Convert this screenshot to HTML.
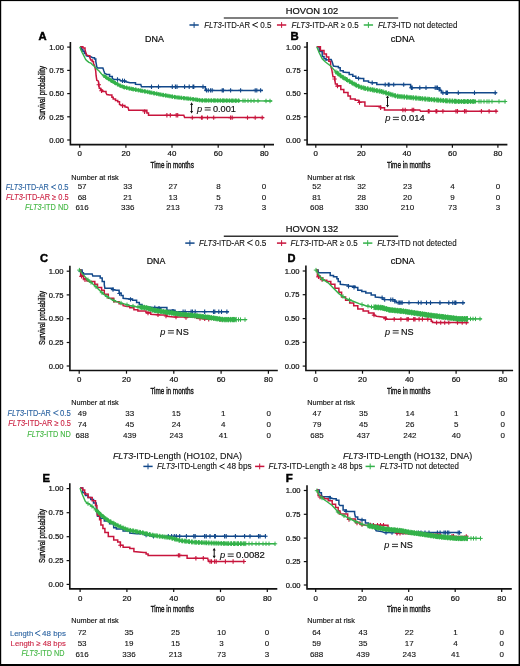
<!DOCTYPE html><html><head><meta charset="utf-8"><title>FLT3-ITD survival</title><style>html,body{margin:0;padding:0;background:#fff;overflow:hidden;}svg{display:block;filter:blur(0.3px);}text{font-family:"Liberation Sans", sans-serif;}</style></head><body>
<svg width="520" height="666" viewBox="0 0 520 666">
<rect x="0" y="0" width="520" height="666" fill="#fff"/>
<text x="311.90" y="13.60" font-size="8.9" text-anchor="middle" fill="#111" stroke="#111" stroke-width="0.22" textLength="52.40" lengthAdjust="spacingAndGlyphs">HOVON 102</text>
<line x1="223.80" y1="18.00" x2="398.20" y2="18.00" stroke="#555" stroke-width="1.4"/>
<line x1="189.45" y1="25.00" x2="198.75" y2="25.00" stroke="#12488a" stroke-width="1.5"/>
<line x1="194.10" y1="22.10" x2="194.10" y2="27.90" stroke="#12488a" stroke-width="1.0"/>
<text x="204.20" y="27.90" font-size="8.7" fill="#111" stroke="#111" stroke-width="0.1" textLength="45.90" lengthAdjust="spacingAndGlyphs"><tspan font-style="italic">FLT3</tspan>-ITD-AR</text>
<path d="M257.55 22.55L252.55 24.85L257.55 27.15" fill="none" stroke="#111" stroke-width="0.95" stroke-linejoin="round" stroke-linecap="round"/>
<text x="260.20" y="27.90" font-size="8.7" fill="#111" stroke="#111" stroke-width="0.1" textLength="11.20" lengthAdjust="spacingAndGlyphs">0.5</text>
<line x1="276.95" y1="25.00" x2="286.25" y2="25.00" stroke="#c8143c" stroke-width="1.5"/>
<line x1="281.60" y1="22.10" x2="281.60" y2="27.90" stroke="#c8143c" stroke-width="1.0"/>
<text x="291.60" y="27.90" font-size="8.7" fill="#111" stroke="#111" stroke-width="0.1" textLength="67.10" lengthAdjust="spacingAndGlyphs"><tspan font-style="italic">FLT3</tspan>-ITD-AR ≥ 0.5</text>
<line x1="363.75" y1="25.00" x2="373.05" y2="25.00" stroke="#34b24a" stroke-width="1.5"/>
<line x1="368.40" y1="22.10" x2="368.40" y2="27.90" stroke="#34b24a" stroke-width="1.0"/>
<text x="377.90" y="27.90" font-size="8.7" fill="#111" stroke="#111" stroke-width="0.1" textLength="79.50" lengthAdjust="spacingAndGlyphs"><tspan font-style="italic">FLT3</tspan>-ITD not detected</text>
<text x="311.90" y="231.70" font-size="8.9" text-anchor="middle" fill="#111" stroke="#111" stroke-width="0.22" textLength="52.40" lengthAdjust="spacingAndGlyphs">HOVON 132</text>
<line x1="223.80" y1="236.20" x2="398.20" y2="236.20" stroke="#333" stroke-width="1.4"/>
<line x1="185.25" y1="243.10" x2="194.55" y2="243.10" stroke="#12488a" stroke-width="1.5"/>
<line x1="189.90" y1="240.20" x2="189.90" y2="246.00" stroke="#12488a" stroke-width="1.0"/>
<text x="198.90" y="246.00" font-size="8.7" fill="#111" stroke="#111" stroke-width="0.1" textLength="46.10" lengthAdjust="spacingAndGlyphs"><tspan font-style="italic">FLT3</tspan>-ITD-AR</text>
<path d="M252.35 240.25L247.35 242.70L252.35 245.15" fill="none" stroke="#111" stroke-width="0.95" stroke-linejoin="round" stroke-linecap="round"/>
<text x="254.90" y="246.00" font-size="8.7" fill="#111" stroke="#111" stroke-width="0.1" textLength="11.50" lengthAdjust="spacingAndGlyphs">0.5</text>
<line x1="276.95" y1="243.10" x2="286.25" y2="243.10" stroke="#c8143c" stroke-width="1.5"/>
<line x1="281.60" y1="240.20" x2="281.60" y2="246.00" stroke="#c8143c" stroke-width="1.0"/>
<text x="290.60" y="246.00" font-size="8.7" fill="#111" stroke="#111" stroke-width="0.1" textLength="67.10" lengthAdjust="spacingAndGlyphs"><tspan font-style="italic">FLT3</tspan>-ITD-AR ≥ 0.5</text>
<line x1="363.05" y1="243.10" x2="372.35" y2="243.10" stroke="#34b24a" stroke-width="1.5"/>
<line x1="367.70" y1="240.20" x2="367.70" y2="246.00" stroke="#34b24a" stroke-width="1.0"/>
<text x="377.20" y="246.00" font-size="8.7" fill="#111" stroke="#111" stroke-width="0.1" textLength="79.50" lengthAdjust="spacingAndGlyphs"><tspan font-style="italic">FLT3</tspan>-ITD not detected</text>
<text x="38.60" y="39.80" font-size="10.2" fill="#000" stroke="#000" stroke-width="0.45" font-weight="bold" textLength="8.10" lengthAdjust="spacingAndGlyphs">A</text>
<text x="154.50" y="42.10" font-size="8.2" text-anchor="middle" fill="#111" stroke="#111" stroke-width="0.22" textLength="18.80" lengthAdjust="spacingAndGlyphs">DNA</text>
<path d="M70.40 42.80V144.60H273.20" stroke="#111" stroke-width="1.6" fill="none" stroke-linecap="square"/>
<line x1="67.20" y1="47.10" x2="70.40" y2="47.10" stroke="#111" stroke-width="1.2"/>
<text x="64.00" y="49.80" font-size="7.7" text-anchor="end" fill="#111" stroke="#111" stroke-width="0.22" textLength="14.80" lengthAdjust="spacingAndGlyphs">1.00</text>
<line x1="67.20" y1="70.40" x2="70.40" y2="70.40" stroke="#111" stroke-width="1.2"/>
<text x="64.00" y="73.10" font-size="7.7" text-anchor="end" fill="#111" stroke="#111" stroke-width="0.22" textLength="14.80" lengthAdjust="spacingAndGlyphs">0.75</text>
<line x1="67.20" y1="93.60" x2="70.40" y2="93.60" stroke="#111" stroke-width="1.2"/>
<text x="64.00" y="96.30" font-size="7.7" text-anchor="end" fill="#111" stroke="#111" stroke-width="0.22" textLength="14.80" lengthAdjust="spacingAndGlyphs">0.50</text>
<line x1="67.20" y1="116.80" x2="70.40" y2="116.80" stroke="#111" stroke-width="1.2"/>
<text x="64.00" y="119.50" font-size="7.7" text-anchor="end" fill="#111" stroke="#111" stroke-width="0.22" textLength="14.80" lengthAdjust="spacingAndGlyphs">0.25</text>
<line x1="67.20" y1="140.00" x2="70.40" y2="140.00" stroke="#111" stroke-width="1.2"/>
<text x="64.00" y="142.70" font-size="7.7" text-anchor="end" fill="#111" stroke="#111" stroke-width="0.22" textLength="14.80" lengthAdjust="spacingAndGlyphs">0.00</text>
<line x1="79.70" y1="144.60" x2="79.70" y2="147.80" stroke="#111" stroke-width="1.2"/>
<text x="79.70" y="156.20" font-size="7.9" text-anchor="middle" fill="#111" stroke="#111" stroke-width="0.22">0</text>
<line x1="125.90" y1="144.60" x2="125.90" y2="147.80" stroke="#111" stroke-width="1.2"/>
<text x="125.90" y="156.20" font-size="7.9" text-anchor="middle" fill="#111" stroke="#111" stroke-width="0.22">20</text>
<line x1="172.00" y1="144.60" x2="172.00" y2="147.80" stroke="#111" stroke-width="1.2"/>
<text x="172.00" y="156.20" font-size="7.9" text-anchor="middle" fill="#111" stroke="#111" stroke-width="0.22">40</text>
<line x1="218.20" y1="144.60" x2="218.20" y2="147.80" stroke="#111" stroke-width="1.2"/>
<text x="218.20" y="156.20" font-size="7.9" text-anchor="middle" fill="#111" stroke="#111" stroke-width="0.22">60</text>
<line x1="264.30" y1="144.60" x2="264.30" y2="147.80" stroke="#111" stroke-width="1.2"/>
<text x="264.30" y="156.20" font-size="7.9" text-anchor="middle" fill="#111" stroke="#111" stroke-width="0.22">80</text>
<text transform="translate(44.90,93.00) rotate(-90)" x="0" y="0" font-size="9.0" text-anchor="middle" fill="#111" stroke="#111" stroke-width="0.34" textLength="54" lengthAdjust="spacingAndGlyphs">Survival probability</text>
<text x="172.20" y="167.60" font-size="9.1" text-anchor="middle" fill="#111" stroke="#111" stroke-width="0.38" textLength="43.30" lengthAdjust="spacingAndGlyphs">Time in months</text>
<polyline points="80.20,46.80 81.50,46.80 81.50,49.40 82.90,49.40 82.90,51.20 84.30,51.20 84.30,53.50 86.20,53.50 86.20,55.60 88.00,56.20 90.80,56.80 92.60,57.70 94.50,57.70 94.50,59.10 95.80,59.10 95.80,61.40 96.30,64.20 96.80,66.90 97.50,68.00 102.90,68.10 103.80,70.80 104.70,73.30 106.90,74.40 109.60,74.40 109.60,76.60 112.30,76.60 112.30,78.70 114.50,79.50 119.70,79.50 120.40,80.70 124.50,80.90 125.80,81.80 130.00,82.80 135.50,82.80 135.50,84.40 140.80,84.60 141.50,86.80 204.20,86.80 205.40,86.80 205.40,90.40 262.90,90.40" fill="none" stroke="#12488a" stroke-width="1.5"/>
<path d="M117.50 77.30V81.70M115.30 79.50H119.70M122.50 78.60V83.00M120.30 80.80H124.70M124.50 78.70V83.10M122.30 80.90H126.70M151.50 84.60V89.00M149.30 86.80H153.70M158.50 84.60V89.00M156.30 86.80H160.70M172.30 84.60V89.00M170.10 86.80H174.50M175.40 84.60V89.00M173.20 86.80H177.60M177.00 84.60V89.00M174.80 86.80H179.20M184.60 84.60V89.00M182.40 86.80H186.80M189.20 84.60V89.00M187.00 86.80H191.40M193.00 84.60V89.00M190.80 86.80H195.20M193.80 84.60V89.00M191.60 86.80H196.00M203.00 84.60V89.00M200.80 86.80H205.20M206.50 88.20V92.60M204.30 90.40H208.70M208.30 88.20V92.60M206.10 90.40H210.50M210.60 88.20V92.60M208.40 90.40H212.80M212.20 88.20V92.60M210.00 90.40H214.40M222.20 88.20V92.60M220.00 90.40H224.40M223.40 88.20V92.60M221.20 90.40H225.60M230.60 88.20V92.60M228.40 90.40H232.80M240.60 88.20V92.60M238.40 90.40H242.80M255.20 88.20V92.60M253.00 90.40H257.40M256.80 88.20V92.60M254.60 90.40H259.00M260.60 88.20V92.60M258.40 90.40H262.80" stroke="#12488a" stroke-width="1.1" fill="none"/>
<polyline points="80.20,46.80 82.90,46.80 82.90,48.00 85.00,48.00 85.00,49.60 85.70,52.20 86.60,54.90 88.50,55.80 89.80,55.80 89.80,57.70 90.80,60.00 92.20,60.00 92.20,61.40 93.50,61.40 93.50,63.70 94.50,65.50 95.20,68.50 95.70,70.80 96.10,75.70 96.80,80.20 98.40,81.10 98.80,84.70 99.30,88.30 100.60,88.30 100.60,90.10 102.40,90.10 102.40,91.50 106.00,91.50 106.00,92.80 106.90,94.60 109.60,95.10 111.90,95.10 111.90,97.30 113.20,97.30 113.20,99.10 115.50,99.10 115.50,100.50 117.70,100.50 117.70,101.80 119.50,101.80 119.50,104.50 122.20,105.50 124.90,105.50 124.90,106.80 128.00,107.40 128.80,110.30 142.30,110.30 146.90,110.30 146.90,113.10 148.50,113.10 148.50,115.20 183.80,115.20 184.60,117.60 263.70,117.60" fill="none" stroke="#c8143c" stroke-width="1.5"/>
<path d="M98.80 82.50V86.90M96.60 84.70H101.00M101.50 88.60V93.00M99.30 90.80H103.70M122.60 103.49V107.89M120.40 105.69H124.80M144.60 109.50V113.90M142.40 111.70H146.80M166.90 113.00V117.40M164.70 115.20H169.10M170.30 113.00V117.40M168.10 115.20H172.50M176.20 113.00V117.40M174.00 115.20H178.40M177.70 113.00V117.40M175.50 115.20H179.90M192.30 115.40V119.80M190.10 117.60H194.50M201.50 115.40V119.80M199.30 117.60H203.70M202.20 115.40V119.80M200.00 117.60H204.40M207.50 115.40V119.80M205.30 117.60H209.70M213.70 115.40V119.80M211.50 117.60H215.90M230.60 115.40V119.80M228.40 117.60H232.80M232.20 115.40V119.80M230.00 117.60H234.40M247.50 115.40V119.80M245.30 117.60H249.70M255.20 115.40V119.80M253.00 117.60H257.40M262.20 115.40V119.80M260.00 117.60H264.40" stroke="#c8143c" stroke-width="1.1" fill="none"/>
<polyline points="79.80,46.80 80.60,48.90 82.00,52.20 83.40,54.90 84.80,57.70 85.70,59.50 87.10,60.90 88.90,62.30 90.80,63.00 92.20,64.40 94.50,66.50 97.00,69.30 99.10,71.00 101.50,74.00 106.00,77.30 110.50,80.20 115.00,82.90 119.50,85.40 124.00,87.20 130.00,88.60 145.40,91.50 160.80,94.60 176.20,97.30 191.50,99.00 201.50,100.40 226.80,100.60 272.20,101.00" fill="none" stroke="#34b24a" stroke-width="1.4"/>
<polyline points="104.00,75.83 106.00,77.30 110.50,80.20 115.00,82.90 119.50,85.40 124.00,87.20 130.00,88.60 145.40,91.50 160.80,94.60 176.20,97.30 191.50,99.00 201.50,100.40 226.80,100.60 240.00,100.72" fill="none" stroke="#34b24a" stroke-width="2.6" stroke-linejoin="round"/>
<path d="M104.00 73.68V77.98M101.85 75.83H106.15M105.45 74.75V79.05M103.30 76.90H107.60M106.33 75.36V79.66M104.18 77.51H108.48M108.24 76.59V80.89M106.09 78.74H110.39M108.86 76.99V81.29M106.71 79.14H111.01M110.78 78.22V82.52M108.63 80.37H112.93M111.63 78.73V83.03M109.48 80.88H113.78M113.12 79.62V83.92M110.97 81.77H115.27M114.53 80.47V84.77M112.38 82.62H116.68M115.44 81.00V85.30M113.29 83.15H117.59M117.33 82.05V86.35M115.18 84.20H119.48M117.95 82.39V86.69M115.80 84.54H120.10M119.89 83.41V87.71M117.74 85.56H122.04M120.72 83.74V88.04M118.57 85.89H122.87M122.24 84.34V88.64M120.09 86.49H124.39M123.62 84.90V89.20M121.47 87.05H125.77M124.55 85.18V89.48M122.40 87.33H126.70M126.43 85.62V89.92M124.28 87.77H128.58M127.05 85.76V90.06M124.90 87.91H129.20M129.00 86.22V90.52M126.85 88.37H131.15M129.80 86.40V90.70M127.65 88.55H131.95M131.35 86.70V91.00M129.20 88.85H133.50M132.70 86.96V91.26M130.55 89.11H134.85M133.67 87.14V91.44M131.52 89.29H135.82M135.52 87.49V91.79M133.37 89.64H137.67M136.15 87.61V91.91M134.00 89.76H138.30M138.11 87.98V92.28M135.96 90.13H140.26M138.89 88.12V92.42M136.74 90.27H141.04M140.47 88.42V92.72M138.32 90.57H142.62M141.78 88.67V92.97M139.63 90.82H143.93M142.78 88.86V93.16M140.63 91.01H144.93M144.62 89.20V93.50M142.47 91.35H146.77M145.25 89.32V93.62M143.10 91.47H147.40M147.22 89.72V94.02M145.07 91.87H149.37M147.98 89.87V94.17M145.83 92.02H150.13M149.59 90.19V94.49M147.44 92.34H151.74M150.87 90.45V94.75M148.72 92.60H153.02M151.89 90.66V94.96M149.74 92.81H154.04M153.71 91.02V95.32M151.56 93.17H155.86M154.35 91.15V95.45M152.20 93.30H156.50M156.32 91.55V95.85M154.17 93.70H158.47M157.06 91.70V96.00M154.91 93.85H159.21M158.70 92.03V96.33M156.55 94.18H160.85M159.95 92.28V96.58M157.80 94.43H162.10M161.01 92.49V96.79M158.86 94.64H163.16M162.80 92.80V97.10M160.65 94.95H164.95M163.45 92.91V97.21M161.30 95.06H165.60M165.43 93.26V97.56M163.28 95.41H167.58M166.15 93.39V97.69M164.00 95.54H168.30M167.82 93.68V97.98M165.67 95.83H169.97M169.03 93.89V98.19M166.88 96.04H171.18M170.12 94.08V98.38M167.97 96.23H172.27M171.89 94.39V98.69M169.74 96.54H174.04M172.55 94.51V98.81M170.40 96.66H174.70M174.54 94.86V99.16M172.39 97.01H176.69M175.24 94.98V99.28M173.09 97.13H177.39M176.94 95.23V99.53M174.79 97.38H179.09M178.11 95.36V99.66M175.96 97.51H180.26M179.24 95.49V99.79M177.09 97.64H181.39M180.98 95.68V99.98M178.83 97.83H183.13M181.66 95.76V100.06M179.51 97.91H183.81M183.64 95.98V100.28M181.49 98.13H185.79M184.33 96.05V100.35M182.18 98.20H186.48M186.05 96.24V100.54M183.90 98.39H188.20M187.20 96.37V100.67M185.05 98.52H189.35M188.35 96.50V100.80M186.20 98.65H190.50M190.07 96.69V100.99M187.92 98.84H192.22M190.76 96.77V101.07M188.61 98.92H192.91M192.74 97.02V101.32M190.59 99.17H194.89M193.42 97.12V101.42M191.27 99.27H195.57M195.17 97.36V101.66M193.02 99.51H197.32M196.28 97.52V101.82M194.13 99.67H198.43M197.47 97.69V101.99M195.32 99.84H199.62M199.16 97.92V102.22M197.01 100.07H201.31M199.87 98.02V102.32M197.72 100.17H202.02M201.85 98.25V102.55M199.70 100.40H204.00M202.51 98.26V102.56M200.36 100.41H204.66M204.28 98.27V102.57M202.13 100.42H206.43M205.36 98.28V102.58M203.21 100.43H207.51M206.59 98.29V102.59M204.44 100.44H208.74M208.24 98.30V102.60M206.09 100.45H210.39M208.97 98.31V102.61M206.82 100.46H211.12M210.95 98.32V102.62M208.80 100.47H213.10M211.60 98.33V102.63M209.45 100.48H213.75M213.40 98.34V102.64M211.25 100.49H215.55M214.44 98.35V102.65M212.29 100.50H216.59M215.70 98.36V102.66M213.55 100.51H217.85M217.33 98.38V102.68M215.18 100.53H219.48M218.08 98.38V102.68M215.93 100.53H220.23M220.05 98.40V102.70M217.90 100.55H222.20M220.69 98.40V102.70M218.54 100.55H222.84M222.51 98.42V102.72M220.36 100.57H224.66M223.53 98.42V102.72M221.38 100.57H225.68M224.82 98.43V102.73M222.67 100.58H226.97M226.42 98.45V102.75M224.27 100.60H228.57M227.19 98.45V102.75M225.04 100.60H229.34M229.15 98.47V102.77M227.00 100.62H231.30M229.78 98.48V102.78M227.63 100.63H231.93M231.63 98.49V102.79M229.48 100.64H233.78M232.61 98.50V102.80M230.46 100.65H234.76M233.94 98.51V102.81M231.79 100.66H236.09M235.50 98.53V102.83M233.35 100.68H237.65M236.29 98.53V102.83M234.14 100.68H238.44M238.25 98.55V102.85M236.10 100.70H240.40M238.87 98.56V102.86M236.72 100.71H241.02" stroke="#34b24a" stroke-width="1.0" fill="none"/>
<path d="M243.00 98.54V102.94M240.80 100.74H245.20M245.00 98.56V102.96M242.80 100.76H247.20M248.00 98.59V102.99M245.80 100.79H250.20M251.00 98.61V103.01M248.80 100.81H253.20M254.00 98.64V103.04M251.80 100.84H256.20M258.00 98.67V103.07M255.80 100.87H260.20M266.00 98.75V103.15M263.80 100.95H268.20M270.00 98.78V103.18M267.80 100.98H272.20" stroke="#34b24a" stroke-width="1.0" fill="none"/>
<path d="M191.60 103.80V112.10" stroke="#111" stroke-width="1.0"/>
<path d="M190.10 105.00L191.60 102.30L193.10 105.00Z M190.10 110.90L191.60 113.60L193.10 110.90Z" fill="#111"/>
<text x="197.00" y="111.50" font-size="9.4" fill="#111" stroke="#111" stroke-width="0.12"><tspan font-style="italic">p</tspan></text>
<rect x="204.70" y="107.20" width="6.0" height="1.0" fill="#333"/>
<rect x="204.70" y="109.50" width="6.0" height="1.0" fill="#333"/>
<text x="212.90" y="111.50" font-size="9.4" fill="#111" stroke="#111" stroke-width="0.18" textLength="23.00" lengthAdjust="spacingAndGlyphs">0.001</text>
<text x="71.20" y="179.50" font-size="7.4" fill="#111" stroke="#111" stroke-width="0.15" textLength="47.60" lengthAdjust="spacingAndGlyphs">Number at risk</text>
<text x="82.10" y="189.30" font-size="8.0" text-anchor="middle" fill="#111" stroke="#111" stroke-width="0.12">57</text>
<text x="127.80" y="189.30" font-size="8.0" text-anchor="middle" fill="#111" stroke="#111" stroke-width="0.12">33</text>
<text x="173.00" y="189.30" font-size="8.0" text-anchor="middle" fill="#111" stroke="#111" stroke-width="0.12">27</text>
<text x="218.60" y="189.30" font-size="8.0" text-anchor="middle" fill="#111" stroke="#111" stroke-width="0.12">8</text>
<text x="263.90" y="189.30" font-size="8.0" text-anchor="middle" fill="#111" stroke="#111" stroke-width="0.12">0</text>
<text x="82.10" y="199.80" font-size="8.0" text-anchor="middle" fill="#111" stroke="#111" stroke-width="0.12">68</text>
<text x="127.80" y="199.80" font-size="8.0" text-anchor="middle" fill="#111" stroke="#111" stroke-width="0.12">21</text>
<text x="173.00" y="199.80" font-size="8.0" text-anchor="middle" fill="#111" stroke="#111" stroke-width="0.12">13</text>
<text x="218.60" y="199.80" font-size="8.0" text-anchor="middle" fill="#111" stroke="#111" stroke-width="0.12">5</text>
<text x="263.90" y="199.80" font-size="8.0" text-anchor="middle" fill="#111" stroke="#111" stroke-width="0.12">0</text>
<text x="82.10" y="210.30" font-size="8.0" text-anchor="middle" fill="#111" stroke="#111" stroke-width="0.12">616</text>
<text x="127.80" y="210.30" font-size="8.0" text-anchor="middle" fill="#111" stroke="#111" stroke-width="0.12">336</text>
<text x="173.00" y="210.30" font-size="8.0" text-anchor="middle" fill="#111" stroke="#111" stroke-width="0.12">213</text>
<text x="218.60" y="210.30" font-size="8.0" text-anchor="middle" fill="#111" stroke="#111" stroke-width="0.12">73</text>
<text x="263.90" y="210.30" font-size="8.0" text-anchor="middle" fill="#111" stroke="#111" stroke-width="0.12">3</text>
<text x="5.80" y="189.90" font-size="8.3" fill="#2c64a2" stroke="#2c64a2" stroke-width="0.12" textLength="43.00" lengthAdjust="spacingAndGlyphs"><tspan font-style="italic">FLT3</tspan>-ITD-AR</text>
<path d="M55.65 184.85L51.35 187.00L55.65 189.15" fill="none" stroke="#2c64a2" stroke-width="0.95" stroke-linejoin="round" stroke-linecap="round"/>
<text x="58.00" y="189.90" font-size="8.3" fill="#2c64a2" stroke="#2c64a2" stroke-width="0.12" textLength="10.60" lengthAdjust="spacingAndGlyphs">0.5</text>
<text x="68.60" y="200.00" font-size="8.3" text-anchor="end" fill="#cc2444" stroke="#cc2444" stroke-width="0.12" textLength="62.60" lengthAdjust="spacingAndGlyphs"><tspan font-style="italic">FLT3</tspan>-ITD-AR ≥ 0.5</text>
<text x="68.60" y="210.10" font-size="8.3" text-anchor="end" fill="#45b845" stroke="#45b845" stroke-width="0.12" textLength="43.60" lengthAdjust="spacingAndGlyphs"><tspan font-style="italic">FLT3</tspan>-ITD ND</text>
<text x="290.40" y="39.80" font-size="10.2" fill="#000" stroke="#000" stroke-width="0.45" font-weight="bold" textLength="8.20" lengthAdjust="spacingAndGlyphs">B</text>
<text x="402.70" y="42.10" font-size="8.2" text-anchor="middle" fill="#111" stroke="#111" stroke-width="0.22" textLength="23.90" lengthAdjust="spacingAndGlyphs">cDNA</text>
<path d="M307.10 42.80V144.60H506.60" stroke="#111" stroke-width="1.6" fill="none" stroke-linecap="square"/>
<line x1="303.90" y1="47.10" x2="307.10" y2="47.10" stroke="#111" stroke-width="1.2"/>
<text x="300.70" y="49.80" font-size="7.7" text-anchor="end" fill="#111" stroke="#111" stroke-width="0.22" textLength="14.80" lengthAdjust="spacingAndGlyphs">1.00</text>
<line x1="303.90" y1="70.40" x2="307.10" y2="70.40" stroke="#111" stroke-width="1.2"/>
<text x="300.70" y="73.10" font-size="7.7" text-anchor="end" fill="#111" stroke="#111" stroke-width="0.22" textLength="14.80" lengthAdjust="spacingAndGlyphs">0.75</text>
<line x1="303.90" y1="93.60" x2="307.10" y2="93.60" stroke="#111" stroke-width="1.2"/>
<text x="300.70" y="96.30" font-size="7.7" text-anchor="end" fill="#111" stroke="#111" stroke-width="0.22" textLength="14.80" lengthAdjust="spacingAndGlyphs">0.50</text>
<line x1="303.90" y1="116.80" x2="307.10" y2="116.80" stroke="#111" stroke-width="1.2"/>
<text x="300.70" y="119.50" font-size="7.7" text-anchor="end" fill="#111" stroke="#111" stroke-width="0.22" textLength="14.80" lengthAdjust="spacingAndGlyphs">0.25</text>
<line x1="303.90" y1="140.00" x2="307.10" y2="140.00" stroke="#111" stroke-width="1.2"/>
<text x="300.70" y="142.70" font-size="7.7" text-anchor="end" fill="#111" stroke="#111" stroke-width="0.22" textLength="14.80" lengthAdjust="spacingAndGlyphs">0.00</text>
<line x1="315.80" y1="144.60" x2="315.80" y2="147.80" stroke="#111" stroke-width="1.2"/>
<text x="315.80" y="156.20" font-size="7.9" text-anchor="middle" fill="#111" stroke="#111" stroke-width="0.22">0</text>
<line x1="361.30" y1="144.60" x2="361.30" y2="147.80" stroke="#111" stroke-width="1.2"/>
<text x="361.30" y="156.20" font-size="7.9" text-anchor="middle" fill="#111" stroke="#111" stroke-width="0.22">20</text>
<line x1="406.80" y1="144.60" x2="406.80" y2="147.80" stroke="#111" stroke-width="1.2"/>
<text x="406.80" y="156.20" font-size="7.9" text-anchor="middle" fill="#111" stroke="#111" stroke-width="0.22">40</text>
<line x1="452.40" y1="144.60" x2="452.40" y2="147.80" stroke="#111" stroke-width="1.2"/>
<text x="452.40" y="156.20" font-size="7.9" text-anchor="middle" fill="#111" stroke="#111" stroke-width="0.22">60</text>
<line x1="497.90" y1="144.60" x2="497.90" y2="147.80" stroke="#111" stroke-width="1.2"/>
<text x="497.90" y="156.20" font-size="7.9" text-anchor="middle" fill="#111" stroke="#111" stroke-width="0.22">80</text>
<text x="408.70" y="167.60" font-size="9.1" text-anchor="middle" fill="#111" stroke="#111" stroke-width="0.38" textLength="43.30" lengthAdjust="spacingAndGlyphs">Time in months</text>
<polyline points="316.80,46.80 319.20,46.80 319.20,51.60 322.20,51.60 322.20,56.40 324.00,56.40 324.00,58.80 326.00,58.80 326.00,60.20 329.40,59.60 331.20,59.60 332.40,62.50 333.40,66.00 336.00,66.60 338.40,66.60 338.40,67.80 340.20,67.80 340.20,70.80 343.20,70.80 343.20,72.00 346.80,72.60 349.20,72.60 349.20,74.40 352.80,74.40 352.80,76.20 355.80,76.20 355.80,78.00 360.00,78.60 363.70,78.60 363.70,81.00 368.50,81.00 368.50,82.20 372.20,82.80 376.80,82.80 376.80,84.60 409.10,84.60 410.60,84.60 410.60,87.70 438.30,87.70 439.80,87.70 439.80,90.50 441.40,90.50 441.40,92.80 496.80,92.80" fill="none" stroke="#12488a" stroke-width="1.5"/>
<path d="M358.50 76.19V80.59M356.30 78.39H360.70M372.20 80.60V85.00M370.00 82.80H374.40M385.20 82.40V86.80M383.00 84.60H387.40M388.30 82.40V86.80M386.10 84.60H390.50M389.10 82.40V86.80M386.90 84.60H391.30M393.70 82.40V86.80M391.50 84.60H395.90M403.70 82.40V86.80M401.50 84.60H405.90M411.40 85.50V89.90M409.20 87.70H413.60M412.20 85.50V89.90M410.00 87.70H414.40M419.80 85.50V89.90M417.60 87.70H422.00M426.00 85.50V89.90M423.80 87.70H428.20M435.20 85.50V89.90M433.00 87.70H437.40M436.80 85.50V89.90M434.60 87.70H439.00M437.50 85.50V89.90M435.30 87.70H439.70M439.10 86.99V91.39M436.90 89.19H441.30M442.90 90.60V95.00M440.70 92.80H445.10M446.00 90.60V95.00M443.80 92.80H448.20M446.80 90.60V95.00M444.60 92.80H449.00M447.50 90.60V95.00M445.30 92.80H449.70M458.30 90.60V95.00M456.10 92.80H460.50M474.50 90.60V95.00M472.30 92.80H476.70M495.20 90.60V95.00M493.00 92.80H497.40" stroke="#12488a" stroke-width="1.1" fill="none"/>
<polyline points="316.80,46.80 320.40,46.80 320.40,50.40 324.00,50.40 324.00,54.00 326.40,54.00 326.40,57.00 328.80,57.00 328.80,61.20 330.60,61.20 330.60,66.00 331.80,69.60 333.00,76.80 334.80,76.80 334.80,79.20 335.40,84.00 337.20,84.00 337.20,85.80 340.80,85.80 340.80,89.40 343.80,89.40 343.80,92.40 348.00,92.40 348.00,96.00 350.40,96.00 350.40,99.00 355.20,99.00 355.20,100.30 358.80,100.30 358.80,102.00 364.90,102.00 364.90,105.90 378.30,106.20 380.60,106.20 380.60,107.70 384.50,107.70 384.50,110.00 419.80,110.00 420.60,111.30 497.50,111.30" fill="none" stroke="#c8143c" stroke-width="1.5"/>
<path d="M334.60 76.73V81.13M332.40 78.93H336.80M337.50 83.90V88.30M335.30 86.10H339.70M359.50 100.25V104.65M357.30 102.45H361.70M380.60 105.50V109.90M378.40 107.70H382.80M402.90 107.80V112.20M400.70 110.00H405.10M405.20 107.80V112.20M403.00 110.00H407.40M412.20 107.80V112.20M410.00 110.00H414.40M413.70 107.80V112.20M411.50 110.00H415.90M428.30 109.10V113.50M426.10 111.30H430.50M429.10 109.10V113.50M426.90 111.30H431.30M436.00 109.10V113.50M433.80 111.30H438.20M436.80 109.10V113.50M434.60 111.30H439.00M442.90 109.10V113.50M440.70 111.30H445.10M456.00 109.10V113.50M453.80 111.30H458.20M457.50 109.10V113.50M455.30 111.30H459.70M464.50 109.10V113.50M462.30 111.30H466.70M466.00 109.10V113.50M463.80 111.30H468.20M481.40 109.10V113.50M479.20 111.30H483.60M489.10 109.10V113.50M486.90 111.30H491.30M496.00 109.10V113.50M493.80 111.30H498.20" stroke="#c8143c" stroke-width="1.1" fill="none"/>
<polyline points="316.80,46.80 319.20,52.80 322.20,58.80 325.20,61.80 330.00,65.40 336.00,72.00 342.00,76.80 348.00,80.40 354.00,84.00 360.00,87.00 366.00,88.60 381.40,91.50 396.80,96.20 412.20,97.70 427.50,99.20 446.00,100.80 459.00,101.50 506.00,101.50" fill="none" stroke="#34b24a" stroke-width="1.4"/>
<polyline points="336.00,72.00 342.00,76.80 348.00,80.40 354.00,84.00 360.00,87.00 366.00,88.60 381.40,91.50 396.80,96.20 412.20,97.70 427.50,99.20 446.00,100.80 459.00,101.50 476.00,101.50" fill="none" stroke="#34b24a" stroke-width="2.8" stroke-linejoin="round"/>
<path d="M336.00 69.50V74.50M333.50 72.00H338.50M337.45 70.66V75.66M334.95 73.16H339.95M338.33 71.36V76.36M335.83 73.86H340.83M340.24 72.89V77.89M337.74 75.39H342.74M340.86 73.39V78.39M338.36 75.89H343.36M342.78 74.77V79.77M340.28 77.27H345.28M343.63 75.28V80.28M341.13 77.78H346.13M345.12 76.17V81.17M342.62 78.67H347.62M346.53 77.02V82.02M344.03 79.52H349.03M347.44 77.56V82.56M344.94 80.06H349.94M349.33 78.70V83.70M346.83 81.20H351.83M349.95 79.07V84.07M347.45 81.57H352.45M351.89 80.23V85.23M349.39 82.73H354.39M352.72 80.73V85.73M350.22 83.23H355.22M354.24 81.62V86.62M351.74 84.12H356.74M355.62 82.31V87.31M353.12 84.81H358.12M356.55 82.78V87.78M354.05 85.28H359.05M358.43 83.71V88.71M355.93 86.21H360.93M359.05 84.03V89.03M356.55 86.53H361.55M361.00 84.77V89.77M358.50 87.27H363.50M361.80 84.98V89.98M359.30 87.48H364.30M363.35 85.39V90.39M360.85 87.89H365.85M364.70 85.75V90.75M362.20 88.25H367.20M365.67 86.01V91.01M363.17 88.51H368.17M367.52 86.39V91.39M365.02 88.89H370.02M368.15 86.50V91.50M365.65 89.00H370.65M370.11 86.87V91.87M367.61 89.37H372.61M370.89 87.02V92.02M368.39 89.52H373.39M372.47 87.32V92.32M369.97 89.82H374.97M373.78 87.57V92.57M371.28 90.07H376.28M374.78 87.75V92.75M372.28 90.25H377.28M376.62 88.10V93.10M374.12 90.60H379.12M377.25 88.22V93.22M374.75 90.72H379.75M379.22 88.59V93.59M376.72 91.09H381.72M379.98 88.73V93.73M377.48 91.23H382.48M381.59 89.06V94.06M379.09 91.56H384.09M382.87 89.45V94.45M380.37 91.95H385.37M383.89 89.76V94.76M381.39 92.26H386.39M385.71 90.31V95.31M383.21 92.81H388.21M386.35 90.51V95.51M383.85 93.01H388.85M388.32 91.11V96.11M385.82 93.61H390.82M389.06 91.34V96.34M386.56 93.84H391.56M390.70 91.84V96.84M388.20 94.34H393.20M391.95 92.22V97.22M389.45 94.72H394.45M393.01 92.54V97.54M390.51 95.04H395.51M394.80 93.09V98.09M392.30 95.59H397.30M395.45 93.29V98.29M392.95 95.79H397.95M397.43 93.76V98.76M394.93 96.26H399.93M398.15 93.83V98.83M395.65 96.33H400.65M399.82 93.99V98.99M397.32 96.49H402.32M401.03 94.11V99.11M398.53 96.61H403.53M402.12 94.22V99.22M399.62 96.72H404.62M403.89 94.39V99.39M401.39 96.89H406.39M404.55 94.46V99.46M402.05 96.96H407.05M406.54 94.65V99.65M404.04 97.15H409.04M407.24 94.72V99.72M404.74 97.22H409.74M408.94 94.88V99.88M406.44 97.38H411.44M410.11 95.00V100.00M407.61 97.50H412.61M411.24 95.11V100.11M408.74 97.61H413.74M412.98 95.28V100.28M410.48 97.78H415.48M413.66 95.34V100.34M411.16 97.84H416.16M415.64 95.54V100.54M413.14 98.04H418.14M416.33 95.60V100.60M413.83 98.10H418.83M418.05 95.77V100.77M415.55 98.27H420.55M419.20 95.89V100.89M416.70 98.39H421.70M420.35 96.00V101.00M417.85 98.50H422.85M422.07 96.17V101.17M419.57 98.67H424.57M422.76 96.24V101.24M420.26 98.74H425.26M424.74 96.43V101.43M422.24 98.93H427.24M425.42 96.50V101.50M422.92 99.00H427.92M427.17 96.67V101.67M424.67 99.17H429.67M428.28 96.77V101.77M425.78 99.27H430.78M429.47 96.87V101.87M426.97 99.37H431.97M431.16 97.02V102.02M428.66 99.52H433.66M431.87 97.08V102.08M429.37 99.58H434.37M433.85 97.25V102.25M431.35 99.75H436.35M434.51 97.31V102.31M432.01 99.81H437.01M436.28 97.46V102.46M433.78 99.96H438.78M437.36 97.55V102.55M434.86 100.05H439.86M438.59 97.66V102.66M436.09 100.16H441.09M440.24 97.80V102.80M437.74 100.30H442.74M440.97 97.87V102.87M438.47 100.37H443.47M442.95 98.04V103.04M440.45 100.54H445.45M443.60 98.09V103.09M441.10 100.59H446.10M445.40 98.25V103.25M442.90 100.75H447.90M446.44 98.32V103.32M443.94 100.82H448.94M447.70 98.39V103.39M445.20 100.89H450.20M449.33 98.48V103.48M446.83 100.98H451.83M450.08 98.52V103.52M447.58 101.02H452.58M452.05 98.63V103.63M449.55 101.13H454.55M452.69 98.66V103.66M450.19 101.16H455.19M454.51 98.76V103.76M452.01 101.26H457.01M455.53 98.81V103.81M453.03 101.31H458.03M456.82 98.88V103.88M454.32 101.38H459.32M458.42 98.97V103.97M455.92 101.47H460.92M459.19 99.00V104.00M456.69 101.50H461.69M461.15 99.00V104.00M458.65 101.50H463.65M461.78 99.00V104.00M459.28 101.50H464.28M463.63 99.00V104.00M461.13 101.50H466.13M464.61 99.00V104.00M462.11 101.50H467.11M465.94 99.00V104.00M463.44 101.50H468.44M467.50 99.00V104.00M465.00 101.50H470.00M468.29 99.00V104.00M465.79 101.50H470.79M470.25 99.00V104.00M467.75 101.50H472.75M470.87 99.00V104.00M468.37 101.50H473.37M472.74 99.00V104.00M470.24 101.50H475.24M473.69 99.00V104.00M471.19 101.50H476.19M475.06 99.00V104.00M472.56 101.50H477.56" stroke="#34b24a" stroke-width="1.0" fill="none"/>
<path d="M479.00 99.30V103.70M476.80 101.50H481.20M481.00 99.30V103.70M478.80 101.50H483.20M484.00 99.30V103.70M481.80 101.50H486.20M487.00 99.30V103.70M484.80 101.50H489.20M489.00 99.30V103.70M486.80 101.50H491.20M492.00 99.30V103.70M489.80 101.50H494.20M499.00 99.30V103.70M496.80 101.50H501.20M505.00 99.30V103.70M502.80 101.50H507.20" stroke="#34b24a" stroke-width="1.0" fill="none"/>
<path d="M387.50 96.90V106.10" stroke="#111" stroke-width="1.0"/>
<path d="M386.00 98.10L387.50 95.40L389.00 98.10Z M386.00 104.90L387.50 107.60L389.00 104.90Z" fill="#111"/>
<text x="385.20" y="121.10" font-size="9.4" fill="#111" stroke="#111" stroke-width="0.12"><tspan font-style="italic">p</tspan></text>
<rect x="392.90" y="116.80" width="6.0" height="1.0" fill="#333"/>
<rect x="392.90" y="119.10" width="6.0" height="1.0" fill="#333"/>
<text x="401.10" y="121.10" font-size="9.4" fill="#111" stroke="#111" stroke-width="0.18" textLength="23.60" lengthAdjust="spacingAndGlyphs">0.014</text>
<text x="307.30" y="179.50" font-size="7.4" fill="#111" stroke="#111" stroke-width="0.15" textLength="47.60" lengthAdjust="spacingAndGlyphs">Number at risk</text>
<text x="316.70" y="189.30" font-size="8.0" text-anchor="middle" fill="#111" stroke="#111" stroke-width="0.12">52</text>
<text x="361.60" y="189.30" font-size="8.0" text-anchor="middle" fill="#111" stroke="#111" stroke-width="0.12">32</text>
<text x="407.50" y="189.30" font-size="8.0" text-anchor="middle" fill="#111" stroke="#111" stroke-width="0.12">23</text>
<text x="452.50" y="189.30" font-size="8.0" text-anchor="middle" fill="#111" stroke="#111" stroke-width="0.12">4</text>
<text x="498.10" y="189.30" font-size="8.0" text-anchor="middle" fill="#111" stroke="#111" stroke-width="0.12">0</text>
<text x="316.70" y="199.80" font-size="8.0" text-anchor="middle" fill="#111" stroke="#111" stroke-width="0.12">81</text>
<text x="361.60" y="199.80" font-size="8.0" text-anchor="middle" fill="#111" stroke="#111" stroke-width="0.12">28</text>
<text x="407.50" y="199.80" font-size="8.0" text-anchor="middle" fill="#111" stroke="#111" stroke-width="0.12">20</text>
<text x="452.50" y="199.80" font-size="8.0" text-anchor="middle" fill="#111" stroke="#111" stroke-width="0.12">9</text>
<text x="498.10" y="199.80" font-size="8.0" text-anchor="middle" fill="#111" stroke="#111" stroke-width="0.12">0</text>
<text x="316.70" y="210.30" font-size="8.0" text-anchor="middle" fill="#111" stroke="#111" stroke-width="0.12">608</text>
<text x="361.60" y="210.30" font-size="8.0" text-anchor="middle" fill="#111" stroke="#111" stroke-width="0.12">330</text>
<text x="407.50" y="210.30" font-size="8.0" text-anchor="middle" fill="#111" stroke="#111" stroke-width="0.12">210</text>
<text x="452.50" y="210.30" font-size="8.0" text-anchor="middle" fill="#111" stroke="#111" stroke-width="0.12">73</text>
<text x="498.10" y="210.30" font-size="8.0" text-anchor="middle" fill="#111" stroke="#111" stroke-width="0.12">3</text>
<text x="40.00" y="261.70" font-size="10.2" fill="#000" stroke="#000" stroke-width="0.45" font-weight="bold" textLength="8.00" lengthAdjust="spacingAndGlyphs">C</text>
<text x="156.00" y="264.10" font-size="8.2" text-anchor="middle" fill="#111" stroke="#111" stroke-width="0.22" textLength="18.60" lengthAdjust="spacingAndGlyphs">DNA</text>
<path d="M69.90 266.60V370.50H277.00" stroke="#111" stroke-width="1.6" fill="none" stroke-linecap="square"/>
<line x1="66.70" y1="271.20" x2="69.90" y2="271.20" stroke="#111" stroke-width="1.2"/>
<text x="63.50" y="273.90" font-size="7.7" text-anchor="end" fill="#111" stroke="#111" stroke-width="0.22" textLength="14.80" lengthAdjust="spacingAndGlyphs">1.00</text>
<line x1="66.70" y1="294.90" x2="69.90" y2="294.90" stroke="#111" stroke-width="1.2"/>
<text x="63.50" y="297.60" font-size="7.7" text-anchor="end" fill="#111" stroke="#111" stroke-width="0.22" textLength="14.80" lengthAdjust="spacingAndGlyphs">0.75</text>
<line x1="66.70" y1="318.70" x2="69.90" y2="318.70" stroke="#111" stroke-width="1.2"/>
<text x="63.50" y="321.40" font-size="7.7" text-anchor="end" fill="#111" stroke="#111" stroke-width="0.22" textLength="14.80" lengthAdjust="spacingAndGlyphs">0.50</text>
<line x1="66.70" y1="342.50" x2="69.90" y2="342.50" stroke="#111" stroke-width="1.2"/>
<text x="63.50" y="345.20" font-size="7.7" text-anchor="end" fill="#111" stroke="#111" stroke-width="0.22" textLength="14.80" lengthAdjust="spacingAndGlyphs">0.25</text>
<line x1="66.70" y1="366.00" x2="69.90" y2="366.00" stroke="#111" stroke-width="1.2"/>
<text x="63.50" y="368.70" font-size="7.7" text-anchor="end" fill="#111" stroke="#111" stroke-width="0.22" textLength="14.80" lengthAdjust="spacingAndGlyphs">0.00</text>
<line x1="79.20" y1="370.50" x2="79.20" y2="373.70" stroke="#111" stroke-width="1.2"/>
<text x="79.20" y="382.10" font-size="7.9" text-anchor="middle" fill="#111" stroke="#111" stroke-width="0.22">0</text>
<line x1="126.50" y1="370.50" x2="126.50" y2="373.70" stroke="#111" stroke-width="1.2"/>
<text x="126.50" y="382.10" font-size="7.9" text-anchor="middle" fill="#111" stroke="#111" stroke-width="0.22">20</text>
<line x1="173.80" y1="370.50" x2="173.80" y2="373.70" stroke="#111" stroke-width="1.2"/>
<text x="173.80" y="382.10" font-size="7.9" text-anchor="middle" fill="#111" stroke="#111" stroke-width="0.22">40</text>
<line x1="221.10" y1="370.50" x2="221.10" y2="373.70" stroke="#111" stroke-width="1.2"/>
<text x="221.10" y="382.10" font-size="7.9" text-anchor="middle" fill="#111" stroke="#111" stroke-width="0.22">60</text>
<line x1="268.40" y1="370.50" x2="268.40" y2="373.70" stroke="#111" stroke-width="1.2"/>
<text x="268.40" y="382.10" font-size="7.9" text-anchor="middle" fill="#111" stroke="#111" stroke-width="0.22">80</text>
<text transform="translate(44.90,318.10) rotate(-90)" x="0" y="0" font-size="9.0" text-anchor="middle" fill="#111" stroke="#111" stroke-width="0.34" textLength="54" lengthAdjust="spacingAndGlyphs">Survival probability</text>
<text x="172.10" y="394.00" font-size="9.1" text-anchor="middle" fill="#111" stroke="#111" stroke-width="0.38" textLength="43.30" lengthAdjust="spacingAndGlyphs">Time in months</text>
<polyline points="79.40,270.10 82.10,270.10 82.10,272.70 83.40,272.70 83.40,274.10 92.20,274.10 92.80,276.10 98.20,276.10 100.20,276.10 100.20,278.10 102.20,278.10 102.20,281.50 104.30,281.50 104.30,284.90 104.90,288.20 111.00,288.20 113.00,288.20 113.00,289.60 116.40,290.20 119.10,290.20 119.10,292.90 121.10,292.90 121.10,295.60 123.10,295.60 123.10,298.30 129.80,299.00 132.50,299.00 132.50,300.30 136.60,300.30 136.60,302.40 139.30,302.40 139.30,304.40 142.00,304.40 142.00,306.20 146.00,306.80 153.50,307.50 166.90,307.50 166.90,310.20 175.00,310.20 175.00,311.60 228.90,311.80" fill="none" stroke="#12488a" stroke-width="1.5"/>
<path d="M80.70 269.15V273.55M78.50 271.35H82.90M113.00 287.40V291.80M110.80 289.60H115.20M119.50 291.24V295.64M117.30 293.44H121.70M130.50 297.14V301.54M128.30 299.34H132.70M154.80 305.56V309.96M152.60 307.76H157.00M158.80 306.37V310.77M156.60 308.57H161.00M159.50 306.51V310.91M157.30 308.71H161.70M172.30 308.93V313.33M170.10 311.13H174.50M173.60 309.16V313.56M171.40 311.36H175.80M183.10 309.43V313.83M180.90 311.63H185.30M185.10 309.44V313.84M182.90 311.64H187.30M191.10 309.46V313.86M188.90 311.66H193.30M192.50 309.46V313.86M190.30 311.66H194.70M195.20 309.47V313.87M193.00 311.67H197.40M204.60 309.51V313.91M202.40 311.71H206.80M204.70 309.51V313.91M202.50 311.71H206.90M213.50 309.54V313.94M211.30 311.74H215.70M214.80 309.55V313.95M212.60 311.75H217.00M218.80 309.56V313.96M216.60 311.76H221.00M221.50 309.57V313.97M219.30 311.77H223.70M226.90 309.59V313.99M224.70 311.79H229.10" stroke="#12488a" stroke-width="1.1" fill="none"/>
<polyline points="79.40,270.10 80.70,270.10 80.70,275.40 83.40,275.40 83.40,278.80 86.80,278.80 86.80,280.80 90.80,281.50 94.80,281.50 94.80,284.20 97.50,284.20 97.50,287.60 101.60,287.60 101.60,290.20 104.30,290.20 104.30,294.30 108.30,294.30 108.30,298.30 113.70,298.30 113.70,301.70 119.10,301.70 119.10,303.70 123.10,303.70 123.10,305.70 127.10,306.40 129.80,306.40 129.80,307.70 133.90,307.70 133.90,309.80 137.90,309.80 137.90,311.10 146.00,311.10 146.00,312.40 150.80,312.40 150.80,314.20 160.20,314.90 166.90,314.90 166.90,316.20 173.60,316.90 196.50,316.90 196.50,318.30 210.00,319.30 235.70,319.70" fill="none" stroke="#c8143c" stroke-width="1.5"/>
<path d="M81.50 274.21V278.61M79.30 276.41H83.70M85.00 277.54V281.94M82.80 279.74H87.20M148.00 310.95V315.35M145.80 313.15H150.20M158.00 312.54V316.94M155.80 314.74H160.20M166.00 313.83V318.23M163.80 316.03H168.20M176.00 314.85V319.25M173.80 317.05H178.20M186.00 315.46V319.86M183.80 317.66H188.20M200.00 316.36V320.76M197.80 318.56H202.20M204.70 316.71V321.11M202.50 318.91H206.90M208.70 317.00V321.40M206.50 319.20H210.90M220.20 317.26V321.66M218.00 319.46H222.40M233.00 317.46V321.86M230.80 319.66H235.20" stroke="#c8143c" stroke-width="1.1" fill="none"/>
<polyline points="79.40,270.10 82.70,274.10 86.80,278.80 90.80,282.20 96.20,286.90 102.90,293.60 109.60,298.30 116.40,301.70 123.10,303.70 129.80,305.50 136.60,306.80 146.00,307.70 153.50,310.20 166.90,312.20 180.40,314.20 193.80,315.60 210.00,317.60 222.90,319.60 247.10,319.60" fill="none" stroke="#34b24a" stroke-width="1.4"/>
<polyline points="140.00,307.13 146.00,307.70 153.50,310.20 166.90,312.20 180.40,314.20 193.80,315.60 210.00,317.60 222.90,319.60 236.00,319.60" fill="none" stroke="#34b24a" stroke-width="4.0" stroke-linejoin="round"/>
<path d="M140.00 304.48V309.78M137.35 307.13H142.65M141.35 304.60V309.90M138.70 307.25H144.00M142.13 304.68V309.98M139.48 307.33H144.78M143.94 304.85V310.15M141.29 307.50H146.59M144.46 304.90V310.20M141.81 307.55H147.11M146.28 305.14V310.44M143.63 307.79H148.93M147.03 305.39V310.69M144.38 308.04H149.68M148.42 305.86V311.16M145.77 308.51H151.07M149.73 306.29V311.59M147.08 308.94H152.38M150.54 306.56V311.86M147.89 309.21H153.19M152.33 307.16V312.46M149.68 309.81H154.98M152.85 307.33V312.63M150.20 309.98H155.50M154.69 307.73V313.03M152.04 310.38H157.34M155.42 307.84V313.14M152.77 310.49H158.07M156.84 308.05V313.35M154.19 310.70H159.49M158.12 308.24V313.54M155.47 310.89H160.77M158.95 308.36V313.66M156.30 311.01H161.60M160.73 308.63V313.93M158.08 311.28H163.38M161.25 308.71V314.01M158.60 311.36H163.90M163.10 308.98V314.28M160.45 311.63H165.75M163.80 309.09V314.39M161.15 311.74H166.45M165.25 309.30V314.60M162.60 311.95H167.90M166.50 309.49V314.79M163.85 312.14H169.15M167.37 309.62V314.92M164.72 312.27H170.02M169.12 309.88V315.18M166.47 312.53H171.77M169.65 309.96V315.26M167.00 312.61H172.30M171.51 310.23V315.53M168.86 312.88H174.16M172.19 310.33V315.63M169.54 312.98H174.84M173.67 310.55V315.85M171.02 313.20H176.32M174.88 310.73V316.03M172.23 313.38H177.53M175.78 310.87V316.17M173.13 313.52H178.43M177.52 311.12V316.42M174.87 313.77H180.17M178.05 311.20V316.50M175.40 313.85H180.70M179.92 311.48V316.78M177.27 314.13H182.57M180.58 311.57V316.87M177.93 314.22H183.23M182.09 311.73V317.03M179.44 314.38H184.74M183.27 311.85V317.15M180.62 314.50H185.92M184.19 311.95V317.25M181.54 314.60H186.84M185.91 312.13V317.43M183.26 314.78H188.56M186.45 312.18V317.48M183.80 314.83H189.10M188.32 312.38V317.68M185.67 315.03H190.97M188.96 312.44V317.74M186.31 315.09H191.61M190.50 312.61V317.91M187.85 315.26H193.15M191.65 312.73V318.03M189.00 315.38H194.30M192.61 312.83V318.13M189.96 315.48H195.26M194.30 313.01V318.31M191.65 315.66H196.95M194.85 313.08V318.38M192.20 315.73H197.50M196.73 313.31V318.61M194.08 315.96H199.38M197.35 313.39V318.69M194.70 316.04H200.00M198.92 313.58V318.88M196.27 316.23H201.57M200.03 313.72V319.02M197.38 316.37H202.68M201.02 313.84V319.14M198.37 316.49H203.67M202.69 314.05V319.35M200.04 316.70H205.34M203.25 314.12V319.42M200.60 316.77H205.90M205.14 314.35V319.65M202.49 317.00H207.79M205.74 314.42V319.72M203.09 317.07H208.39M207.34 314.62V319.92M204.69 317.27H209.99M208.41 314.75V320.05M205.76 317.40H211.06M209.44 314.88V320.18M206.79 317.53H212.09M211.08 315.12V320.42M208.43 317.77H213.73M211.66 315.21V320.51M209.01 317.86H214.31M213.54 315.50V320.80M210.89 318.15H216.19M214.13 315.59V320.89M211.48 318.24H216.78M215.75 315.84V321.14M213.10 318.49H218.40M216.80 316.00V321.30M214.15 318.65H219.45M217.85 316.17V321.47M215.20 318.82H220.50M219.47 316.42V321.72M216.82 319.07H222.12M220.06 316.51V321.81M217.41 319.16H222.71M221.94 316.80V322.10M219.29 319.45H224.59M222.52 316.89V322.19M219.87 319.54H225.17M224.17 316.95V322.25M221.52 319.60H226.82M225.18 316.95V322.25M222.53 319.60H227.83M226.27 316.95V322.25M223.62 319.60H228.92M227.86 316.95V322.25M225.21 319.60H230.51M228.47 316.95V322.25M225.82 319.60H231.12M230.35 316.95V322.25M227.70 319.60H233.00M230.91 316.95V322.25M228.26 319.60H233.56M232.58 316.95V322.25M229.93 319.60H235.23M233.56 316.95V322.25M230.91 319.60H236.21M234.69 316.95V322.25M232.04 319.60H237.34M236.24 316.95V322.25M233.59 319.60H238.89" stroke="#34b24a" stroke-width="1.0" fill="none"/>
<path d="M79.40 267.90V272.30M77.20 270.10H81.60M88.00 277.62V282.02M85.80 279.82H90.20M91.00 280.17V284.57M88.80 282.37H93.20M96.00 284.53V288.93M93.80 286.73H98.20M102.00 290.50V294.90M99.80 292.70H104.20M107.00 294.28V298.68M104.80 296.48H109.20M114.00 298.30V302.70M111.80 300.50H116.20M121.00 300.87V305.27M118.80 303.07H123.20M127.00 302.55V306.95M124.80 304.75H129.20M133.00 303.91V308.31M130.80 306.11H135.20M138.00 304.73V309.13M135.80 306.93H140.20M238.50 317.40V321.80M236.30 319.60H240.70M240.50 317.40V321.80M238.30 319.60H242.70M245.00 317.40V321.80M242.80 319.60H247.20" stroke="#34b24a" stroke-width="1.0" fill="none"/>
<text x="160.20" y="334.50" font-size="9.2" fill="#111" stroke="#111" stroke-width="0.12"><tspan font-style="italic">p</tspan></text>
<rect x="167.90" y="330.20" width="6.0" height="1.0" fill="#333"/>
<rect x="167.90" y="332.50" width="6.0" height="1.0" fill="#333"/>
<text x="176.10" y="334.50" font-size="9.2" fill="#111" stroke="#111" stroke-width="0.18" textLength="12.60" lengthAdjust="spacingAndGlyphs">NS</text>
<text x="71.20" y="404.70" font-size="7.4" fill="#111" stroke="#111" stroke-width="0.15" textLength="47.60" lengthAdjust="spacingAndGlyphs">Number at risk</text>
<text x="82.30" y="416.00" font-size="8.0" text-anchor="middle" fill="#111" stroke="#111" stroke-width="0.12">49</text>
<text x="129.80" y="416.00" font-size="8.0" text-anchor="middle" fill="#111" stroke="#111" stroke-width="0.12">33</text>
<text x="176.20" y="416.00" font-size="8.0" text-anchor="middle" fill="#111" stroke="#111" stroke-width="0.12">15</text>
<text x="223.30" y="416.00" font-size="8.0" text-anchor="middle" fill="#111" stroke="#111" stroke-width="0.12">1</text>
<text x="268.70" y="416.00" font-size="8.0" text-anchor="middle" fill="#111" stroke="#111" stroke-width="0.12">0</text>
<text x="82.30" y="426.80" font-size="8.0" text-anchor="middle" fill="#111" stroke="#111" stroke-width="0.12">74</text>
<text x="129.80" y="426.80" font-size="8.0" text-anchor="middle" fill="#111" stroke="#111" stroke-width="0.12">45</text>
<text x="176.20" y="426.80" font-size="8.0" text-anchor="middle" fill="#111" stroke="#111" stroke-width="0.12">24</text>
<text x="223.30" y="426.80" font-size="8.0" text-anchor="middle" fill="#111" stroke="#111" stroke-width="0.12">4</text>
<text x="268.70" y="426.80" font-size="8.0" text-anchor="middle" fill="#111" stroke="#111" stroke-width="0.12">0</text>
<text x="82.30" y="437.70" font-size="8.0" text-anchor="middle" fill="#111" stroke="#111" stroke-width="0.12">688</text>
<text x="129.80" y="437.70" font-size="8.0" text-anchor="middle" fill="#111" stroke="#111" stroke-width="0.12">439</text>
<text x="176.20" y="437.70" font-size="8.0" text-anchor="middle" fill="#111" stroke="#111" stroke-width="0.12">243</text>
<text x="223.30" y="437.70" font-size="8.0" text-anchor="middle" fill="#111" stroke="#111" stroke-width="0.12">41</text>
<text x="268.70" y="437.70" font-size="8.0" text-anchor="middle" fill="#111" stroke="#111" stroke-width="0.12">0</text>
<text x="7.60" y="415.60" font-size="8.3" fill="#2c64a2" stroke="#2c64a2" stroke-width="0.12" textLength="43.30" lengthAdjust="spacingAndGlyphs"><tspan font-style="italic">FLT3</tspan>-ITD-AR</text>
<path d="M58.05 410.65L53.45 412.85L58.05 415.05" fill="none" stroke="#2c64a2" stroke-width="0.95" stroke-linejoin="round" stroke-linecap="round"/>
<text x="60.00" y="415.60" font-size="8.3" fill="#2c64a2" stroke="#2c64a2" stroke-width="0.12" textLength="10.80" lengthAdjust="spacingAndGlyphs">0.5</text>
<text x="70.90" y="425.80" font-size="8.3" text-anchor="end" fill="#cc2444" stroke="#cc2444" stroke-width="0.12" textLength="62.60" lengthAdjust="spacingAndGlyphs"><tspan font-style="italic">FLT3</tspan>-ITD-AR ≥ 0.5</text>
<text x="70.90" y="436.70" font-size="8.3" text-anchor="end" fill="#45b845" stroke="#45b845" stroke-width="0.12" textLength="43.60" lengthAdjust="spacingAndGlyphs"><tspan font-style="italic">FLT3</tspan>-ITD ND</text>
<text x="287.50" y="261.70" font-size="10.2" fill="#000" stroke="#000" stroke-width="0.45" font-weight="bold" textLength="8.00" lengthAdjust="spacingAndGlyphs">D</text>
<text x="402.70" y="264.10" font-size="8.2" text-anchor="middle" fill="#111" stroke="#111" stroke-width="0.22" textLength="23.90" lengthAdjust="spacingAndGlyphs">cDNA</text>
<path d="M305.90 266.30V370.50H512.30" stroke="#111" stroke-width="1.6" fill="none" stroke-linecap="square"/>
<line x1="302.70" y1="271.00" x2="305.90" y2="271.00" stroke="#111" stroke-width="1.2"/>
<text x="299.50" y="273.70" font-size="7.7" text-anchor="end" fill="#111" stroke="#111" stroke-width="0.22" textLength="14.80" lengthAdjust="spacingAndGlyphs">1.00</text>
<line x1="302.70" y1="294.70" x2="305.90" y2="294.70" stroke="#111" stroke-width="1.2"/>
<text x="299.50" y="297.40" font-size="7.7" text-anchor="end" fill="#111" stroke="#111" stroke-width="0.22" textLength="14.80" lengthAdjust="spacingAndGlyphs">0.75</text>
<line x1="302.70" y1="318.60" x2="305.90" y2="318.60" stroke="#111" stroke-width="1.2"/>
<text x="299.50" y="321.30" font-size="7.7" text-anchor="end" fill="#111" stroke="#111" stroke-width="0.22" textLength="14.80" lengthAdjust="spacingAndGlyphs">0.50</text>
<line x1="302.70" y1="342.30" x2="305.90" y2="342.30" stroke="#111" stroke-width="1.2"/>
<text x="299.50" y="345.00" font-size="7.7" text-anchor="end" fill="#111" stroke="#111" stroke-width="0.22" textLength="14.80" lengthAdjust="spacingAndGlyphs">0.25</text>
<line x1="302.70" y1="366.10" x2="305.90" y2="366.10" stroke="#111" stroke-width="1.2"/>
<text x="299.50" y="368.80" font-size="7.7" text-anchor="end" fill="#111" stroke="#111" stroke-width="0.22" textLength="14.80" lengthAdjust="spacingAndGlyphs">0.00</text>
<line x1="315.70" y1="370.50" x2="315.70" y2="373.70" stroke="#111" stroke-width="1.2"/>
<text x="315.70" y="382.10" font-size="7.9" text-anchor="middle" fill="#111" stroke="#111" stroke-width="0.22">0</text>
<line x1="362.50" y1="370.50" x2="362.50" y2="373.70" stroke="#111" stroke-width="1.2"/>
<text x="362.50" y="382.10" font-size="7.9" text-anchor="middle" fill="#111" stroke="#111" stroke-width="0.22">20</text>
<line x1="409.30" y1="370.50" x2="409.30" y2="373.70" stroke="#111" stroke-width="1.2"/>
<text x="409.30" y="382.10" font-size="7.9" text-anchor="middle" fill="#111" stroke="#111" stroke-width="0.22">40</text>
<line x1="456.10" y1="370.50" x2="456.10" y2="373.70" stroke="#111" stroke-width="1.2"/>
<text x="456.10" y="382.10" font-size="7.9" text-anchor="middle" fill="#111" stroke="#111" stroke-width="0.22">60</text>
<line x1="502.90" y1="370.50" x2="502.90" y2="373.70" stroke="#111" stroke-width="1.2"/>
<text x="502.90" y="382.10" font-size="7.9" text-anchor="middle" fill="#111" stroke="#111" stroke-width="0.22">80</text>
<text x="408.70" y="394.00" font-size="9.1" text-anchor="middle" fill="#111" stroke="#111" stroke-width="0.38" textLength="43.30" lengthAdjust="spacingAndGlyphs">Time in months</text>
<polyline points="316.00,270.10 318.10,270.10 318.10,271.40 318.70,272.70 328.20,272.70 330.20,272.70 330.20,275.40 333.50,275.40 333.50,276.80 336.90,276.80 336.90,278.80 338.20,278.80 338.20,281.50 340.30,281.50 340.30,284.20 347.00,284.90 348.30,284.90 348.30,286.20 355.10,286.20 355.10,287.60 357.80,287.60 357.80,290.20 361.80,290.20 361.80,291.60 365.80,291.60 365.80,292.90 371.20,292.90 371.20,295.00 375.30,295.00 375.30,297.00 382.70,297.80 383.40,299.50 393.50,299.80 394.80,299.80 394.80,301.20 396.20,301.20 396.20,302.60 464.90,302.80" fill="none" stroke="#12488a" stroke-width="1.5"/>
<path d="M348.50 284.04V288.44M346.30 286.24H350.70M354.00 285.17V289.57M351.80 287.37H356.20M382.10 295.54V299.94M379.90 297.74H384.30M384.70 297.34V301.74M382.50 299.54H386.90M390.80 297.52V301.92M388.60 299.72H393.00M392.80 297.58V301.98M390.60 299.78H395.00M394.80 299.00V303.40M392.60 301.20H397.00M398.20 300.41V304.81M396.00 302.61H400.40M399.60 300.41V304.81M397.40 302.61H401.80M400.90 300.41V304.81M398.70 302.61H403.10M402.20 300.42V304.82M400.00 302.62H404.40M409.00 300.44V304.84M406.80 302.64H411.20M418.40 300.46V304.86M416.20 302.66H420.60M421.10 300.47V304.87M418.90 302.67H423.30M426.50 300.49V304.89M424.30 302.69H428.70M430.50 300.50V304.90M428.30 302.70H432.70M439.90 300.53V304.93M437.70 302.73H442.10M440.00 300.53V304.93M437.80 302.73H442.20M448.80 300.55V304.95M446.60 302.75H451.00M452.80 300.56V304.96M450.60 302.76H455.00M454.80 300.57V304.97M452.60 302.77H457.00M455.90 300.57V304.97M453.70 302.77H458.10M462.90 300.59V304.99M460.70 302.79H465.10" stroke="#12488a" stroke-width="1.1" fill="none"/>
<polyline points="316.00,270.10 317.40,270.10 317.40,276.10 320.10,276.10 320.10,278.10 322.80,278.10 322.80,280.20 326.80,280.20 326.80,281.50 330.80,281.50 330.80,284.20 334.90,284.20 334.90,288.20 338.90,288.20 338.90,292.30 341.60,292.30 341.60,297.00 345.60,297.00 345.60,300.30 349.70,300.30 349.70,303.00 353.70,303.00 353.70,305.70 357.80,305.70 357.80,309.10 363.10,309.10 363.10,311.10 368.50,311.10 368.50,313.10 373.90,313.10 373.90,315.10 376.60,316.30 384.10,317.30 386.10,317.30 386.10,319.30 429.80,319.30 431.20,319.30 431.20,321.30 432.50,321.30 432.50,322.60 468.30,322.60" fill="none" stroke="#c8143c" stroke-width="1.5"/>
<path d="M318.50 274.71V279.11M316.30 276.91H320.70M322.00 277.38V281.78M319.80 279.58H324.20M374.00 312.94V317.34M371.80 315.14H376.20M385.40 316.40V320.80M383.20 318.60H387.60M394.20 317.10V321.50M392.00 319.30H396.40M400.90 317.10V321.50M398.70 319.30H403.10M407.00 317.10V321.50M404.80 319.30H409.20M408.30 317.10V321.50M406.10 319.30H410.50M413.70 317.10V321.50M411.50 319.30H415.90M415.00 317.10V321.50M412.80 319.30H417.20M419.10 317.10V321.50M416.90 319.30H421.30M422.40 317.10V321.50M420.20 319.30H424.60M427.80 317.10V321.50M425.60 319.30H430.00M436.60 320.40V324.80M434.40 322.60H438.80M440.70 320.40V324.80M438.50 322.60H442.90M444.70 320.40V324.80M442.50 322.60H446.90M448.80 320.40V324.80M446.60 322.60H451.00M457.50 320.40V324.80M455.30 322.60H459.70M462.20 320.40V324.80M460.00 322.60H464.40M466.30 320.40V324.80M464.10 322.60H468.50" stroke="#c8143c" stroke-width="1.1" fill="none"/>
<polyline points="316.00,270.10 318.70,274.80 322.80,279.50 328.20,282.80 333.50,288.20 338.90,293.60 345.60,298.30 352.40,301.00 359.10,303.70 365.80,305.70 372.60,307.10 382.00,307.70 389.50,309.90 402.90,311.20 416.40,313.30 429.80,315.30 446.00,317.30 458.90,318.90 481.80,318.90" fill="none" stroke="#34b24a" stroke-width="1.4"/>
<polyline points="374.00,307.19 382.00,307.70 389.50,309.90 402.90,311.20 416.40,313.30 429.80,315.30 446.00,317.30 458.90,318.90 468.00,318.90" fill="none" stroke="#34b24a" stroke-width="4.6" stroke-linejoin="round"/>
<path d="M374.00 304.39V309.99M371.20 307.19H376.80M375.35 304.48V310.08M372.55 307.28H378.15M376.13 304.53V310.13M373.33 307.33H378.93M377.94 304.64V310.24M375.14 307.44H380.74M378.46 304.67V310.27M375.66 307.47H381.26M380.28 304.79V310.39M377.48 307.59H383.08M381.03 304.84V310.44M378.23 307.64H383.83M382.42 305.02V310.62M379.62 307.82H385.22M383.73 305.41V311.01M380.93 308.21H386.53M384.54 305.65V311.25M381.74 308.45H387.34M386.33 306.17V311.77M383.53 308.97H389.13M386.85 306.32V311.92M384.05 309.12H389.65M388.69 306.86V312.46M385.89 309.66H391.49M389.42 307.08V312.68M386.62 309.88H392.22M390.84 307.23V312.83M388.04 310.03H393.64M392.12 307.35V312.95M389.32 310.15H394.92M392.95 307.44V313.04M390.15 310.24H395.75M394.73 307.61V313.21M391.93 310.41H397.53M395.25 307.66V313.26M392.45 310.46H398.05M397.10 307.84V313.44M394.30 310.64H399.90M397.80 307.91V313.51M395.00 310.71H400.60M399.25 308.05V313.65M396.45 310.85H402.05M400.50 308.17V313.77M397.70 310.97H403.30M401.37 308.25V313.85M398.57 311.05H404.17M403.12 308.43V314.03M400.32 311.23H405.92M403.65 308.52V314.12M400.85 311.32H406.45M405.51 308.81V314.41M402.71 311.61H408.31M406.19 308.91V314.51M403.39 311.71H408.99M407.67 309.14V314.74M404.87 311.94H410.47M408.88 309.33V314.93M406.08 312.13H411.68M409.78 309.47V315.07M406.98 312.27H412.58M411.52 309.74V315.34M408.72 312.54H414.32M412.05 309.82V315.42M409.25 312.62H414.85M413.92 310.11V315.71M411.12 312.91H416.72M414.58 310.22V315.82M411.78 313.02H417.38M416.09 310.45V316.05M413.29 313.25H418.89M417.27 310.63V316.23M414.47 313.43H420.07M418.19 310.77V316.37M415.39 313.57H420.99M419.91 311.02V316.62M417.11 313.82H422.71M420.45 311.10V316.70M417.65 313.90H423.25M422.32 311.38V316.98M419.52 314.18H425.12M422.96 311.48V317.08M420.16 314.28H425.76M424.50 311.71V317.31M421.70 314.51H427.30M425.65 311.88V317.48M422.85 314.68H428.45M426.61 312.02V317.62M423.81 314.82H429.41M428.30 312.28V317.88M425.50 315.08H431.10M428.85 312.36V317.96M426.05 315.16H431.65M430.73 312.61V318.21M427.93 315.41H433.53M431.35 312.69V318.29M428.55 315.49H434.15M432.92 312.89V318.49M430.12 315.69H435.72M434.03 313.02V318.62M431.23 315.82H436.83M435.02 313.14V318.74M432.22 315.94H437.82M436.69 313.35V318.95M433.89 316.15H439.49M437.25 313.42V319.02M434.45 316.22H440.05M439.14 313.65V319.25M436.34 316.45H441.94M439.74 313.73V319.33M436.94 316.53H442.54M441.34 313.92V319.52M438.54 316.72H444.14M442.41 314.06V319.66M439.61 316.86H445.21M443.44 314.18V319.78M440.64 316.98H446.24M445.08 314.39V319.99M442.28 317.19H447.88M445.66 314.46V320.06M442.86 317.26H448.46M447.54 314.69V320.29M444.74 317.49H450.34M448.13 314.76V320.36M445.33 317.56H450.93M449.75 314.97V320.57M446.95 317.77H452.55M450.80 315.09V320.69M448.00 317.89H453.60M451.85 315.23V320.83M449.05 318.03H454.65M453.47 315.43V321.03M450.67 318.23H456.27M454.06 315.50V321.10M451.26 318.30H456.86M455.94 315.73V321.33M453.14 318.53H458.74M456.52 315.80V321.40M453.72 318.60H459.32M458.17 316.01V321.61M455.37 318.81H460.97M459.18 316.10V321.70M456.38 318.90H461.98M460.27 316.10V321.70M457.47 318.90H463.07M461.86 316.10V321.70M459.06 318.90H464.66M462.47 316.10V321.70M459.67 318.90H465.27M464.35 316.10V321.70M461.55 318.90H467.15M464.91 316.10V321.70M462.11 318.90H467.71M466.58 316.10V321.70M463.78 318.90H469.38M467.56 316.10V321.70M464.76 318.90H470.36" stroke="#34b24a" stroke-width="1.0" fill="none"/>
<path d="M316.00 267.90V272.30M313.80 270.10H318.20M322.80 277.30V281.70M320.60 279.50H325.00M343.00 294.28V298.68M340.80 296.48H345.20M349.50 297.65V302.05M347.30 299.85H351.70M362.00 302.37V306.77M359.80 304.57H364.20M368.00 303.95V308.35M365.80 306.15H370.20M371.50 304.67V309.07M369.30 306.87H373.70M470.50 316.70V321.10M468.30 318.90H472.70M473.00 316.70V321.10M470.80 318.90H475.20M475.50 316.70V321.10M473.30 318.90H477.70M480.00 316.70V321.10M477.80 318.90H482.20" stroke="#34b24a" stroke-width="1.0" fill="none"/>
<text x="385.00" y="334.50" font-size="9.2" fill="#111" stroke="#111" stroke-width="0.12"><tspan font-style="italic">p</tspan></text>
<rect x="392.70" y="330.20" width="6.0" height="1.0" fill="#333"/>
<rect x="392.70" y="332.50" width="6.0" height="1.0" fill="#333"/>
<text x="400.90" y="334.50" font-size="9.2" fill="#111" stroke="#111" stroke-width="0.18" textLength="12.60" lengthAdjust="spacingAndGlyphs">NS</text>
<text x="307.30" y="404.70" font-size="7.4" fill="#111" stroke="#111" stroke-width="0.15" textLength="47.60" lengthAdjust="spacingAndGlyphs">Number at risk</text>
<text x="317.00" y="416.00" font-size="8.0" text-anchor="middle" fill="#111" stroke="#111" stroke-width="0.12">47</text>
<text x="363.40" y="416.00" font-size="8.0" text-anchor="middle" fill="#111" stroke="#111" stroke-width="0.12">35</text>
<text x="409.90" y="416.00" font-size="8.0" text-anchor="middle" fill="#111" stroke="#111" stroke-width="0.12">14</text>
<text x="456.30" y="416.00" font-size="8.0" text-anchor="middle" fill="#111" stroke="#111" stroke-width="0.12">1</text>
<text x="502.70" y="416.00" font-size="8.0" text-anchor="middle" fill="#111" stroke="#111" stroke-width="0.12">0</text>
<text x="317.00" y="426.80" font-size="8.0" text-anchor="middle" fill="#111" stroke="#111" stroke-width="0.12">79</text>
<text x="363.40" y="426.80" font-size="8.0" text-anchor="middle" fill="#111" stroke="#111" stroke-width="0.12">45</text>
<text x="409.90" y="426.80" font-size="8.0" text-anchor="middle" fill="#111" stroke="#111" stroke-width="0.12">26</text>
<text x="456.30" y="426.80" font-size="8.0" text-anchor="middle" fill="#111" stroke="#111" stroke-width="0.12">5</text>
<text x="502.70" y="426.80" font-size="8.0" text-anchor="middle" fill="#111" stroke="#111" stroke-width="0.12">0</text>
<text x="317.00" y="437.70" font-size="8.0" text-anchor="middle" fill="#111" stroke="#111" stroke-width="0.12">685</text>
<text x="363.40" y="437.70" font-size="8.0" text-anchor="middle" fill="#111" stroke="#111" stroke-width="0.12">437</text>
<text x="409.90" y="437.70" font-size="8.0" text-anchor="middle" fill="#111" stroke="#111" stroke-width="0.12">242</text>
<text x="456.30" y="437.70" font-size="8.0" text-anchor="middle" fill="#111" stroke="#111" stroke-width="0.12">40</text>
<text x="502.70" y="437.70" font-size="8.0" text-anchor="middle" fill="#111" stroke="#111" stroke-width="0.12">0</text>
<text x="112.90" y="458.60" font-size="9.0" fill="#111" stroke="#111" stroke-width="0.12" textLength="129.00" lengthAdjust="spacingAndGlyphs"><tspan font-style="italic">FLT3</tspan>-ITD-Length (HO102, DNA)</text>
<text x="342.90" y="458.60" font-size="9.0" fill="#111" stroke="#111" stroke-width="0.12" textLength="129.30" lengthAdjust="spacingAndGlyphs"><tspan font-style="italic">FLT3</tspan>-ITD-Length (HO132, DNA)</text>
<line x1="143.35" y1="466.40" x2="152.65" y2="466.40" stroke="#12488a" stroke-width="1.5"/>
<line x1="148.00" y1="463.50" x2="148.00" y2="469.30" stroke="#12488a" stroke-width="1.0"/>
<text x="157.00" y="468.60" font-size="8.7" fill="#111" stroke="#111" stroke-width="0.1" textLength="60.00" lengthAdjust="spacingAndGlyphs"><tspan font-style="italic">FLT3</tspan>-ITD-Length</text>
<path d="M224.25 464.15L219.65 466.40L224.25 468.65" fill="none" stroke="#111" stroke-width="0.95" stroke-linejoin="round" stroke-linecap="round"/>
<text x="226.80" y="468.60" font-size="8.7" fill="#111" stroke="#111" stroke-width="0.1" textLength="24.90" lengthAdjust="spacingAndGlyphs">48 bps</text>
<line x1="255.05" y1="466.40" x2="264.35" y2="466.40" stroke="#c8143c" stroke-width="1.5"/>
<line x1="259.70" y1="463.50" x2="259.70" y2="469.30" stroke="#c8143c" stroke-width="1.0"/>
<text x="268.60" y="468.60" font-size="8.7" fill="#111" stroke="#111" stroke-width="0.1" textLength="93.80" lengthAdjust="spacingAndGlyphs"><tspan font-style="italic">FLT3</tspan>-ITD-Length ≥ 48 bps</text>
<line x1="365.55" y1="466.40" x2="374.85" y2="466.40" stroke="#34b24a" stroke-width="1.5"/>
<line x1="370.20" y1="463.50" x2="370.20" y2="469.30" stroke="#34b24a" stroke-width="1.0"/>
<text x="380.00" y="468.60" font-size="8.7" fill="#111" stroke="#111" stroke-width="0.1" textLength="79.00" lengthAdjust="spacingAndGlyphs"><tspan font-style="italic">FLT3</tspan>-ITD not detected</text>
<text x="42.40" y="482.00" font-size="10.2" fill="#000" stroke="#000" stroke-width="0.45" font-weight="bold" textLength="7.50" lengthAdjust="spacingAndGlyphs">E</text>
<path d="M69.80 484.00V588.90H276.50" stroke="#111" stroke-width="1.6" fill="none" stroke-linecap="square"/>
<line x1="66.60" y1="488.60" x2="69.80" y2="488.60" stroke="#111" stroke-width="1.2"/>
<text x="63.40" y="491.30" font-size="7.7" text-anchor="end" fill="#111" stroke="#111" stroke-width="0.22" textLength="14.80" lengthAdjust="spacingAndGlyphs">1.00</text>
<line x1="66.60" y1="512.70" x2="69.80" y2="512.70" stroke="#111" stroke-width="1.2"/>
<text x="63.40" y="515.40" font-size="7.7" text-anchor="end" fill="#111" stroke="#111" stroke-width="0.22" textLength="14.80" lengthAdjust="spacingAndGlyphs">0.75</text>
<line x1="66.60" y1="536.70" x2="69.80" y2="536.70" stroke="#111" stroke-width="1.2"/>
<text x="63.40" y="539.40" font-size="7.7" text-anchor="end" fill="#111" stroke="#111" stroke-width="0.22" textLength="14.80" lengthAdjust="spacingAndGlyphs">0.50</text>
<line x1="66.60" y1="560.60" x2="69.80" y2="560.60" stroke="#111" stroke-width="1.2"/>
<text x="63.40" y="563.30" font-size="7.7" text-anchor="end" fill="#111" stroke="#111" stroke-width="0.22" textLength="14.80" lengthAdjust="spacingAndGlyphs">0.25</text>
<line x1="66.60" y1="584.40" x2="69.80" y2="584.40" stroke="#111" stroke-width="1.2"/>
<text x="63.40" y="587.10" font-size="7.7" text-anchor="end" fill="#111" stroke="#111" stroke-width="0.22" textLength="14.80" lengthAdjust="spacingAndGlyphs">0.00</text>
<line x1="80.10" y1="588.90" x2="80.10" y2="592.10" stroke="#111" stroke-width="1.2"/>
<text x="80.10" y="600.50" font-size="7.9" text-anchor="middle" fill="#111" stroke="#111" stroke-width="0.22">0</text>
<line x1="126.90" y1="588.90" x2="126.90" y2="592.10" stroke="#111" stroke-width="1.2"/>
<text x="126.90" y="600.50" font-size="7.9" text-anchor="middle" fill="#111" stroke="#111" stroke-width="0.22">20</text>
<line x1="173.70" y1="588.90" x2="173.70" y2="592.10" stroke="#111" stroke-width="1.2"/>
<text x="173.70" y="600.50" font-size="7.9" text-anchor="middle" fill="#111" stroke="#111" stroke-width="0.22">40</text>
<line x1="220.50" y1="588.90" x2="220.50" y2="592.10" stroke="#111" stroke-width="1.2"/>
<text x="220.50" y="600.50" font-size="7.9" text-anchor="middle" fill="#111" stroke="#111" stroke-width="0.22">60</text>
<line x1="267.30" y1="588.90" x2="267.30" y2="592.10" stroke="#111" stroke-width="1.2"/>
<text x="267.30" y="600.50" font-size="7.9" text-anchor="middle" fill="#111" stroke="#111" stroke-width="0.22">80</text>
<text transform="translate(45.20,536.10) rotate(-90)" x="0" y="0" font-size="9.0" text-anchor="middle" fill="#111" stroke="#111" stroke-width="0.34" textLength="54" lengthAdjust="spacingAndGlyphs">Survival probability</text>
<text x="172.30" y="612.30" font-size="9.1" text-anchor="middle" fill="#111" stroke="#111" stroke-width="0.38" textLength="43.30" lengthAdjust="spacingAndGlyphs">Time in months</text>
<polyline points="80.00,488.10 82.70,488.10 82.70,492.80 85.40,492.80 85.40,495.50 88.10,495.50 88.10,497.50 90.80,497.50 90.80,499.50 93.50,499.50 93.50,502.90 96.20,502.90 96.20,506.20 96.90,511.60 97.50,516.30 100.20,516.30 100.20,518.30 104.30,518.30 104.30,521.00 109.60,521.00 109.60,523.70 113.70,523.70 113.70,527.80 116.40,527.80 116.40,529.10 123.10,529.10 123.10,531.10 129.80,531.10 129.80,533.10 136.60,533.80 146.70,533.80 146.70,535.20 153.50,536.30 266.20,536.30" fill="none" stroke="#12488a" stroke-width="1.5"/>
<path d="M146.10 532.92V537.32M143.90 535.12H148.30M153.50 534.10V538.50M151.30 536.30H155.70M168.30 534.10V538.50M166.10 536.30H170.50M171.60 534.10V538.50M169.40 536.30H173.80M174.30 534.10V538.50M172.10 536.30H176.50M176.30 534.10V538.50M174.10 536.30H178.50M179.70 534.10V538.50M177.50 536.30H181.90M186.40 534.10V538.50M184.20 536.30H188.60M193.80 534.10V538.50M191.60 536.30H196.00M195.20 534.10V538.50M193.00 536.30H197.40M204.60 534.10V538.50M202.40 536.30H206.80M206.20 534.10V538.50M204.00 536.30H208.40M210.00 534.10V538.50M207.80 536.30H212.20M214.60 534.10V538.50M212.40 536.30H216.80M215.40 534.10V538.50M213.20 536.30H217.60M224.60 534.10V538.50M222.40 536.30H226.80M226.20 534.10V538.50M224.00 536.30H228.40M235.40 534.10V538.50M233.20 536.30H237.60M244.60 534.10V538.50M242.40 536.30H246.80M250.00 534.10V538.50M247.80 536.30H252.20M258.50 534.10V538.50M256.30 536.30H260.70M260.00 534.10V538.50M257.80 536.30H262.20M265.40 534.10V538.50M263.20 536.30H267.60" stroke="#12488a" stroke-width="1.1" fill="none"/>
<polyline points="80.00,488.10 82.70,488.10 82.70,490.10 84.70,490.10 84.70,494.10 88.10,494.10 88.10,497.50 92.20,497.50 92.20,500.80 95.50,500.80 95.50,505.60 96.90,505.60 96.90,508.90 97.50,515.60 99.60,515.60 99.60,519.70 100.90,519.70 100.90,525.10 102.90,525.10 102.90,528.40 104.90,528.40 104.90,532.50 108.30,532.50 108.30,536.50 113.70,536.50 113.70,539.90 117.70,539.90 117.70,541.90 120.40,541.90 120.40,545.30 123.10,545.30 123.10,547.30 129.80,547.30 129.80,548.60 133.90,548.60 133.90,551.50 144.00,552.50 146.10,552.50 146.10,554.00 148.10,554.00 148.10,555.40 185.80,555.40 187.10,555.40 187.10,558.30 207.70,558.30 208.50,561.50 244.60,561.50" fill="none" stroke="#c8143c" stroke-width="1.5"/>
<path d="M120.40 543.10V547.50M118.20 545.30H122.60M178.40 553.20V557.60M176.20 555.40H180.60M179.70 553.20V557.60M177.50 555.40H181.90M195.90 556.10V560.50M193.70 558.30H198.10M203.30 556.10V560.50M201.10 558.30H205.50M210.00 559.30V563.70M207.80 561.50H212.20M211.50 559.30V563.70M209.30 561.50H213.70M214.60 559.30V563.70M212.40 561.50H216.80M216.20 559.30V563.70M214.00 561.50H218.40M225.40 559.30V563.70M223.20 561.50H227.60M233.10 559.30V563.70M230.90 561.50H235.30M243.80 559.30V563.70M241.60 561.50H246.00" stroke="#c8143c" stroke-width="1.1" fill="none"/>
<polyline points="80.00,488.10 82.10,494.10 85.40,501.50 88.00,503.60 90.00,504.60 93.50,507.60 97.70,511.50 101.50,515.30 105.40,518.50 109.00,521.00 113.10,523.10 116.90,525.20 120.80,526.90 124.60,528.60 128.50,530.00 136.20,531.50 143.80,533.10 151.50,535.00 159.20,536.20 170.00,537.70 180.40,540.60 193.80,542.20 210.00,543.00 227.70,543.60 275.40,543.80" fill="none" stroke="#34b24a" stroke-width="1.4"/>
<polyline points="96.00,509.92 97.70,511.50 101.50,515.30 105.40,518.50 109.00,521.00 113.10,523.10 116.90,525.20 120.80,526.90 124.60,528.60 128.50,530.00 136.20,531.50 143.80,533.10 151.50,535.00 159.20,536.20 170.00,537.70 180.40,540.60 193.80,542.20 210.00,543.00 227.70,543.60 246.00,543.68" fill="none" stroke="#34b24a" stroke-width="2.6" stroke-linejoin="round"/>
<path d="M96.00 507.52V512.32M93.60 509.92H98.40M97.55 508.96V513.76M95.15 511.36H99.95M98.53 509.93V514.73M96.13 512.33H100.93M100.54 511.94V516.74M98.14 514.34H102.94M101.26 512.66V517.46M98.86 515.06H103.66M103.28 514.36V519.16M100.88 516.76H105.68M104.23 515.14V519.94M101.83 517.54H106.63M105.82 516.39V521.19M103.42 518.79H108.22M107.33 517.44V522.24M104.93 519.84H109.73M108.34 518.14V522.94M105.94 520.54H110.74M110.33 519.28V524.08M107.93 521.68H112.73M111.05 519.65V524.45M108.65 522.05H113.45M113.09 520.70V525.50M110.69 523.10H115.49M114.02 521.21V526.01M111.62 523.61H116.42M115.64 522.10V526.90M113.24 524.50H118.04M117.12 522.89V527.69M114.72 525.29H119.52M118.15 523.35V528.15M115.75 525.75H120.55M120.13 524.21V529.01M117.73 526.61H122.53M120.85 524.52V529.32M118.45 526.92H123.25M122.90 525.44V530.24M120.50 527.84H125.30M123.80 525.84V530.64M121.40 528.24H126.20M125.45 526.51V531.31M123.05 528.91H127.85M126.90 527.03V531.83M124.50 529.43H129.30M127.97 527.41V532.21M125.57 529.81H130.37M129.92 527.88V532.68M127.52 530.28H132.32M130.65 528.02V532.82M128.25 530.42H133.05M132.71 528.42V533.22M130.31 530.82H135.11M133.59 528.59V533.39M131.19 530.99H135.99M135.27 528.92V533.72M132.87 531.32H137.67M136.68 529.20V534.00M134.28 531.60H139.08M137.78 529.43V534.23M135.38 531.83H140.18M139.72 529.84V534.64M137.32 532.24H142.12M140.45 529.99V534.79M138.05 532.39H142.85M142.52 530.43V535.23M140.12 532.83H144.92M143.38 530.61V535.41M140.98 533.01H145.78M145.09 531.02V535.82M142.69 533.42H147.49M146.47 531.36V536.16M144.07 533.76H148.87M147.59 531.64V536.44M145.19 534.04H149.99M149.51 532.11V536.91M147.11 534.51H151.91M150.25 532.29V537.09M147.85 534.69H152.65M152.32 532.73V537.53M149.92 535.13H154.72M153.16 532.86V537.66M150.76 535.26H155.56M154.90 533.13V537.93M152.50 535.53H157.30M156.25 533.34V538.14M153.85 535.74H158.65M157.41 533.52V538.32M155.01 535.92H159.81M159.30 533.81V538.61M156.90 536.21H161.70M160.05 533.92V538.72M157.65 536.32H162.45M162.13 534.21V539.01M159.73 536.61H164.53M162.95 534.32V539.12M160.55 536.72H165.35M164.72 534.57V539.37M162.32 536.97H167.12M166.03 534.75V539.55M163.63 537.15H168.43M167.22 534.91V539.71M164.82 537.31H169.62M169.09 535.17V539.97M166.69 537.57H171.49M169.85 535.28V540.08M167.45 537.68H172.25M171.94 535.84V540.64M169.54 538.24H174.34M172.74 536.06V540.86M170.34 538.46H175.14M174.54 536.57V541.37M172.14 538.97H176.94M175.81 536.92V541.72M173.41 539.32H178.21M177.04 537.26V542.06M174.64 539.66H179.44M178.88 537.78V542.58M176.48 540.18H181.28M179.66 537.99V542.79M177.26 540.39H182.06M181.74 538.36V543.16M179.34 540.76H184.14M182.53 538.45V543.25M180.13 540.85H184.93M184.35 538.67V543.47M181.95 541.07H186.75M185.60 538.82V543.62M183.20 541.22H188.00M186.85 538.97V543.77M184.45 541.37H189.25M188.67 539.19V543.99M186.27 541.59H191.07M189.46 539.28V544.08M187.06 541.68H191.86M191.54 539.53V544.33M189.14 541.93H193.94M192.32 539.62V544.42M189.92 542.02H194.72M194.17 539.82V544.62M191.77 542.22H196.57M195.38 539.88V544.68M192.98 542.28H197.78M196.67 539.94V544.74M194.27 542.34H199.07M198.46 540.03V544.83M196.06 542.43H200.86M199.27 540.07V544.87M196.87 542.47H201.67M201.35 540.17V544.97M198.95 542.57H203.75M202.11 540.21V545.01M199.71 542.61H204.51M203.98 540.30V545.10M201.58 542.70H206.38M205.16 540.36V545.16M202.76 542.76H207.56M206.49 540.43V545.23M204.09 542.83H208.89M208.24 540.51V545.31M205.84 542.91H210.64M209.07 540.55V545.35M206.67 542.95H211.47M211.15 540.64V545.44M208.75 543.04H213.55M211.90 540.66V545.46M209.50 543.06H214.30M213.80 540.73V545.53M211.40 543.13H216.20M214.94 540.77V545.57M212.54 543.17H217.34M216.30 540.81V545.61M213.90 543.21H218.70M218.03 540.87V545.67M215.63 543.27H220.43M218.88 540.90V545.70M216.48 543.30H221.28M220.95 540.97V545.77M218.55 543.37H223.35M221.69 541.00V545.80M219.29 543.40H224.09M223.61 541.06V545.86M221.21 543.46H226.01M224.73 541.10V545.90M222.33 543.50H227.13M226.12 541.15V545.95M223.72 543.55H228.52M227.82 541.20V546.00M225.42 543.60H230.22M228.69 541.20V546.00M226.29 543.60H231.09M230.75 541.21V546.01M228.35 543.61H233.15M231.48 541.22V546.02M229.08 543.62H233.88M233.43 541.22V546.02M231.03 543.62H235.83M234.51 541.23V546.03M232.11 543.63H236.91M235.94 541.23V546.03M233.54 543.63H238.34M237.60 541.24V546.04M235.20 543.64H240.00M238.49 541.25V546.05M236.09 543.65H240.89M240.55 541.25V546.05M238.15 543.65H242.95M241.27 541.26V546.06M238.87 543.66H243.67M243.24 541.27V546.07M240.84 543.67H245.64M244.29 541.27V546.07M241.89 543.67H246.69M245.76 541.28V546.08M243.36 543.68H248.16" stroke="#34b24a" stroke-width="1.0" fill="none"/>
<path d="M88.00 501.40V505.80M85.80 503.60H90.20M92.00 504.11V508.51M89.80 506.31H94.20M249.00 541.49V545.89M246.80 543.69H251.20M252.00 541.50V545.90M249.80 543.70H254.20M256.00 541.52V545.92M253.80 543.72H258.20M259.00 541.53V545.93M256.80 543.73H261.20M263.00 541.55V545.95M260.80 543.75H265.20M266.00 541.56V545.96M263.80 543.76H268.20M269.00 541.57V545.97M266.80 543.77H271.20M275.00 541.60V546.00M272.80 543.80H277.20" stroke="#34b24a" stroke-width="1.0" fill="none"/>
<path d="M214.20 549.20V557.00" stroke="#111" stroke-width="1.0"/>
<path d="M212.70 550.40L214.20 547.70L215.70 550.40Z M212.70 555.80L214.20 558.50L215.70 555.80Z" fill="#111"/>
<text x="220.00" y="557.80" font-size="9.4" fill="#111" stroke="#111" stroke-width="0.12"><tspan font-style="italic">p</tspan></text>
<rect x="227.70" y="553.50" width="6.0" height="1.0" fill="#333"/>
<rect x="227.70" y="555.80" width="6.0" height="1.0" fill="#333"/>
<text x="235.90" y="557.80" font-size="9.4" fill="#111" stroke="#111" stroke-width="0.18" textLength="29.00" lengthAdjust="spacingAndGlyphs">0.0082</text>
<text x="71.20" y="623.40" font-size="7.4" fill="#111" stroke="#111" stroke-width="0.15" textLength="47.60" lengthAdjust="spacingAndGlyphs">Number at risk</text>
<text x="82.10" y="634.70" font-size="8.0" text-anchor="middle" fill="#111" stroke="#111" stroke-width="0.12">72</text>
<text x="129.00" y="634.70" font-size="8.0" text-anchor="middle" fill="#111" stroke="#111" stroke-width="0.12">35</text>
<text x="175.40" y="634.70" font-size="8.0" text-anchor="middle" fill="#111" stroke="#111" stroke-width="0.12">25</text>
<text x="221.50" y="634.70" font-size="8.0" text-anchor="middle" fill="#111" stroke="#111" stroke-width="0.12">10</text>
<text x="267.10" y="634.70" font-size="8.0" text-anchor="middle" fill="#111" stroke="#111" stroke-width="0.12">0</text>
<text x="82.10" y="645.80" font-size="8.0" text-anchor="middle" fill="#111" stroke="#111" stroke-width="0.12">53</text>
<text x="129.00" y="645.80" font-size="8.0" text-anchor="middle" fill="#111" stroke="#111" stroke-width="0.12">19</text>
<text x="175.40" y="645.80" font-size="8.0" text-anchor="middle" fill="#111" stroke="#111" stroke-width="0.12">15</text>
<text x="221.50" y="645.80" font-size="8.0" text-anchor="middle" fill="#111" stroke="#111" stroke-width="0.12">3</text>
<text x="267.10" y="645.80" font-size="8.0" text-anchor="middle" fill="#111" stroke="#111" stroke-width="0.12">0</text>
<text x="82.10" y="656.80" font-size="8.0" text-anchor="middle" fill="#111" stroke="#111" stroke-width="0.12">616</text>
<text x="129.00" y="656.80" font-size="8.0" text-anchor="middle" fill="#111" stroke="#111" stroke-width="0.12">336</text>
<text x="175.40" y="656.80" font-size="8.0" text-anchor="middle" fill="#111" stroke="#111" stroke-width="0.12">213</text>
<text x="221.50" y="656.80" font-size="8.0" text-anchor="middle" fill="#111" stroke="#111" stroke-width="0.12">73</text>
<text x="267.10" y="656.80" font-size="8.0" text-anchor="middle" fill="#111" stroke="#111" stroke-width="0.12">3</text>
<text x="9.90" y="635.50" font-size="7.6" fill="#2c64a2" stroke="#2c64a2" stroke-width="0.12" textLength="23.30" lengthAdjust="spacingAndGlyphs">Length</text>
<path d="M39.95 630.75L35.15 633.20L39.95 635.65" fill="none" stroke="#2c64a2" stroke-width="0.95" stroke-linejoin="round" stroke-linecap="round"/>
<text x="42.10" y="635.50" font-size="7.6" fill="#2c64a2" stroke="#2c64a2" stroke-width="0.12" textLength="23.90" lengthAdjust="spacingAndGlyphs">48 bps</text>
<text x="65.80" y="645.60" font-size="7.6" text-anchor="end" fill="#cc2444" stroke="#cc2444" stroke-width="0.12" textLength="55.20" lengthAdjust="spacingAndGlyphs">Length ≥ 48 bps</text>
<text x="64.40" y="656.20" font-size="8.3" text-anchor="end" fill="#45b845" stroke="#45b845" stroke-width="0.12" textLength="43.00" lengthAdjust="spacingAndGlyphs"><tspan font-style="italic">FLT3</tspan>-ITD ND</text>
<text x="285.80" y="482.00" font-size="10.2" fill="#000" stroke="#000" stroke-width="0.45" font-weight="bold" textLength="7.00" lengthAdjust="spacingAndGlyphs">F</text>
<path d="M307.00 486.10V588.90H511.00" stroke="#111" stroke-width="1.6" fill="none" stroke-linecap="square"/>
<line x1="303.80" y1="490.50" x2="307.00" y2="490.50" stroke="#111" stroke-width="1.2"/>
<text x="300.60" y="493.20" font-size="7.7" text-anchor="end" fill="#111" stroke="#111" stroke-width="0.22" textLength="14.80" lengthAdjust="spacingAndGlyphs">1.00</text>
<line x1="303.80" y1="514.30" x2="307.00" y2="514.30" stroke="#111" stroke-width="1.2"/>
<text x="300.60" y="517.00" font-size="7.7" text-anchor="end" fill="#111" stroke="#111" stroke-width="0.22" textLength="14.80" lengthAdjust="spacingAndGlyphs">0.75</text>
<line x1="303.80" y1="538.10" x2="307.00" y2="538.10" stroke="#111" stroke-width="1.2"/>
<text x="300.60" y="540.80" font-size="7.7" text-anchor="end" fill="#111" stroke="#111" stroke-width="0.22" textLength="14.80" lengthAdjust="spacingAndGlyphs">0.50</text>
<line x1="303.80" y1="561.60" x2="307.00" y2="561.60" stroke="#111" stroke-width="1.2"/>
<text x="300.60" y="564.30" font-size="7.7" text-anchor="end" fill="#111" stroke="#111" stroke-width="0.22" textLength="14.80" lengthAdjust="spacingAndGlyphs">0.25</text>
<line x1="303.80" y1="585.00" x2="307.00" y2="585.00" stroke="#111" stroke-width="1.2"/>
<text x="300.60" y="587.70" font-size="7.7" text-anchor="end" fill="#111" stroke="#111" stroke-width="0.22" textLength="14.80" lengthAdjust="spacingAndGlyphs">0.00</text>
<line x1="315.70" y1="588.90" x2="315.70" y2="592.10" stroke="#111" stroke-width="1.2"/>
<text x="315.70" y="600.50" font-size="7.9" text-anchor="middle" fill="#111" stroke="#111" stroke-width="0.22">0</text>
<line x1="362.20" y1="588.90" x2="362.20" y2="592.10" stroke="#111" stroke-width="1.2"/>
<text x="362.20" y="600.50" font-size="7.9" text-anchor="middle" fill="#111" stroke="#111" stroke-width="0.22">20</text>
<line x1="408.70" y1="588.90" x2="408.70" y2="592.10" stroke="#111" stroke-width="1.2"/>
<text x="408.70" y="600.50" font-size="7.9" text-anchor="middle" fill="#111" stroke="#111" stroke-width="0.22">40</text>
<line x1="455.20" y1="588.90" x2="455.20" y2="592.10" stroke="#111" stroke-width="1.2"/>
<text x="455.20" y="600.50" font-size="7.9" text-anchor="middle" fill="#111" stroke="#111" stroke-width="0.22">60</text>
<line x1="501.70" y1="588.90" x2="501.70" y2="592.10" stroke="#111" stroke-width="1.2"/>
<text x="501.70" y="600.50" font-size="7.9" text-anchor="middle" fill="#111" stroke="#111" stroke-width="0.22">80</text>
<text x="408.70" y="612.30" font-size="9.1" text-anchor="middle" fill="#111" stroke="#111" stroke-width="0.38" textLength="43.30" lengthAdjust="spacingAndGlyphs">Time in months</text>
<polyline points="316.70,490.10 319.40,490.10 319.40,492.70 321.40,492.70 321.40,494.10 322.10,496.80 328.20,496.80 330.20,496.80 330.20,498.10 333.50,498.80 336.20,498.80 336.20,500.20 338.90,500.20 338.90,504.20 340.00,505.60 343.10,505.60 343.10,510.00 346.20,510.00 346.20,511.50 354.60,511.50 354.60,513.30 355.40,516.90 357.70,516.90 357.70,519.20 363.10,520.00 365.40,520.00 365.40,523.10 368.50,523.10 368.50,524.60 372.30,524.60 372.30,526.90 375.40,526.90 375.40,529.20 376.20,530.80 381.50,531.50 384.60,532.60 460.20,532.60" fill="none" stroke="#12488a" stroke-width="1.5"/>
<path d="M330.00 495.77V500.17M327.80 497.97H332.20M346.00 509.20V513.60M343.80 511.40H348.20M362.00 517.64V522.04M359.80 519.84H364.20M386.00 530.40V534.80M383.80 532.60H388.20M392.00 530.40V534.80M389.80 532.60H394.20M397.00 530.40V534.80M394.80 532.60H399.20M403.00 530.40V534.80M400.80 532.60H405.20M418.40 530.40V534.80M416.20 532.60H420.60M421.00 530.40V534.80M418.80 532.60H423.20M425.00 530.40V534.80M422.80 532.60H427.20M429.00 530.40V534.80M426.80 532.60H431.20M437.40 530.40V534.80M435.20 532.60H439.60M440.10 530.40V534.80M437.90 532.60H442.30M444.00 530.40V534.80M441.80 532.60H446.20M445.40 530.40V534.80M443.20 532.60H447.60M447.40 530.40V534.80M445.20 532.60H449.60M448.80 530.40V534.80M446.60 532.60H451.00M458.20 530.40V534.80M456.00 532.60H460.40M459.60 530.40V534.80M457.40 532.60H461.80" stroke="#12488a" stroke-width="1.1" fill="none"/>
<polyline points="316.70,490.10 318.10,490.10 318.10,495.40 320.70,495.40 320.70,497.50 324.10,497.50 324.10,498.80 328.20,498.80 328.20,500.80 332.20,500.80 332.20,504.20 335.60,504.20 335.60,507.60 338.20,507.60 338.20,510.90 340.00,510.90 340.00,514.00 347.70,514.00 347.70,519.00 355.40,519.00 355.40,522.30 360.00,522.30 360.00,524.40 364.60,525.00 385.00,525.20 388.00,525.20 388.00,529.00 397.00,529.00 397.00,533.20 420.00,534.20 440.00,534.20 440.00,536.20 467.60,536.40" fill="none" stroke="#c8143c" stroke-width="1.5"/>
<path d="M320.00 494.73V499.13M317.80 496.93H322.20M339.00 510.08V514.48M336.80 512.28H341.20M349.00 517.36V521.76M346.80 519.56H351.20M357.00 520.83V525.23M354.80 523.03H359.20M362.00 522.46V526.86M359.80 524.66H364.20M370.50 522.86V527.26M368.30 525.06H372.70M373.50 522.89V527.29M371.30 525.09H375.70M377.50 522.93V527.33M375.30 525.13H379.70M380.50 522.96V527.36M378.30 525.16H382.70M383.50 522.99V527.39M381.30 525.19H385.70M397.00 531.00V535.40M394.80 533.20H399.20M400.00 531.13V535.53M397.80 533.33H402.20M452.00 534.09V538.49M449.80 536.29H454.20M453.50 534.10V538.50M451.30 536.30H455.70M466.30 534.19V538.59M464.10 536.39H468.50" stroke="#c8143c" stroke-width="1.1" fill="none"/>
<polyline points="316.70,490.10 319.40,495.40 322.80,498.80 326.80,501.50 332.20,505.50 338.90,512.90 340.00,513.80 347.70,517.70 355.40,521.50 363.10,524.60 370.80,526.20 378.50,527.70 386.20,529.20 393.80,530.00 401.50,530.80 409.20,532.30 420.00,533.80 436.00,536.30 446.00,537.40 457.50,538.40 481.10,538.40" fill="none" stroke="#34b24a" stroke-width="1.4"/>
<polyline points="368.00,525.62 370.80,526.20 378.50,527.70 386.20,529.20 393.80,530.00 401.50,530.80 409.20,532.30 420.00,533.80 436.00,536.30 446.00,537.40 457.50,538.40 468.00,538.40" fill="none" stroke="#34b24a" stroke-width="4.2" stroke-linejoin="round"/>
<path d="M368.00 522.92V528.32M365.30 525.62H370.70M369.35 523.20V528.60M366.65 525.90H372.05M370.13 523.36V528.76M367.43 526.06H372.83M371.94 523.72V529.12M369.24 526.42H374.64M372.46 523.82V529.22M369.76 526.52H375.16M374.28 524.18V529.58M371.58 526.88H376.98M375.03 524.32V529.72M372.33 527.02H377.73M376.42 524.59V529.99M373.72 527.29H379.12M377.73 524.85V530.25M375.03 527.55H380.43M378.54 525.01V530.41M375.84 527.71H381.24M380.33 525.36V530.76M377.63 528.06H383.03M380.85 525.46V530.86M378.15 528.16H383.55M382.69 525.82V531.22M379.99 528.52H385.39M383.42 525.96V531.36M380.72 528.66H386.12M384.84 526.23V531.63M382.14 528.93H387.54M386.12 526.48V531.88M383.42 529.18H388.82M386.95 526.58V531.98M384.25 529.28H389.65M388.73 526.77V532.17M386.03 529.47H391.43M389.25 526.82V532.22M386.55 529.52H391.95M391.10 527.02V532.42M388.40 529.72H393.80M391.80 527.09V532.49M389.10 529.79H394.50M393.25 527.24V532.64M390.55 529.94H395.95M394.50 527.37V532.77M391.80 530.07H397.20M395.37 527.46V532.86M392.67 530.16H398.07M397.12 527.65V533.05M394.42 530.35H399.82M397.65 527.70V533.10M394.95 530.40H400.35M399.51 527.89V533.29M396.81 530.59H402.21M400.19 527.96V533.36M397.49 530.66H402.89M401.67 528.13V533.53M398.97 530.83H404.37M402.88 528.37V533.77M400.18 531.07H405.58M403.78 528.54V533.94M401.08 531.24H406.48M405.52 528.88V534.28M402.82 531.58H408.22M406.05 528.99V534.39M403.35 531.69H408.75M407.92 529.35V534.75M405.22 532.05H410.62M408.58 529.48V534.88M405.88 532.18H411.28M410.09 529.72V535.12M407.39 532.42H412.79M411.27 529.89V535.29M408.57 532.59H413.97M412.19 530.02V535.42M409.49 532.72H414.89M413.91 530.25V535.65M411.21 532.95H416.61M414.45 530.33V535.73M411.75 533.03H417.15M416.32 530.59V535.99M413.62 533.29H419.02M416.96 530.68V536.08M414.26 533.38H419.66M418.50 530.89V536.29M415.80 533.59H421.20M419.65 531.05V536.45M416.95 533.75H422.35M420.61 531.20V536.60M417.91 533.90H423.31M422.30 531.46V536.86M419.60 534.16H425.00M422.85 531.55V536.95M420.15 534.25H425.55M424.73 531.84V537.24M422.03 534.54H427.43M425.35 531.94V537.34M422.65 534.64H428.05M426.92 532.18V537.58M424.22 534.88H429.62M428.03 532.35V537.75M425.33 535.05H430.73M429.02 532.51V537.91M426.32 535.21H431.72M430.69 532.77V538.17M427.99 535.47H433.39M431.25 532.86V538.26M428.55 535.56H433.95M433.14 533.15V538.55M430.44 535.85H435.84M433.74 533.25V538.65M431.04 535.95H436.44M435.34 533.50V538.90M432.64 536.20H438.04M436.41 533.65V539.05M433.71 536.35H439.11M437.44 533.76V539.16M434.74 536.46H440.14M439.08 533.94V539.34M436.38 536.64H441.78M439.66 534.00V539.40M436.96 536.70H442.36M441.54 534.21V539.61M438.84 536.91H444.24M442.13 534.27V539.67M439.43 536.97H444.83M443.75 534.45V539.85M441.05 537.15H446.45M444.80 534.57V539.97M442.10 537.27H447.50M445.85 534.68V540.08M443.15 537.38H448.55M447.47 534.83V540.23M444.77 537.53H450.17M448.06 534.88V540.28M445.36 537.58H450.76M449.94 535.04V540.44M447.24 537.74H452.64M450.52 535.09V540.49M447.82 537.79H453.22M452.17 535.24V540.64M449.47 537.94H454.87M453.18 535.32V540.72M450.48 538.02H455.88M454.27 535.42V540.82M451.57 538.12H456.97M455.86 535.56V540.96M453.16 538.26H458.56M456.47 535.61V541.01M453.77 538.31H459.17M458.35 535.70V541.10M455.65 538.40H461.05M458.91 535.70V541.10M456.21 538.40H461.61M460.58 535.70V541.10M457.88 538.40H463.28M461.56 535.70V541.10M458.86 538.40H464.26M462.69 535.70V541.10M459.99 538.40H465.39M464.24 535.70V541.10M461.54 538.40H466.94M464.87 535.70V541.10M462.17 538.40H467.57M466.75 535.70V541.10M464.05 538.40H469.45M467.30 535.70V541.10M464.60 538.40H470.00" stroke="#34b24a" stroke-width="1.0" fill="none"/>
<path d="M317.00 488.49V492.89M314.80 490.69H319.20M322.00 495.80V500.20M319.80 498.00H324.20M338.00 509.71V514.11M335.80 511.91H340.20M344.00 513.63V518.03M341.80 515.83H346.20M350.00 516.64V521.04M347.80 518.84H352.20M356.00 519.54V523.94M353.80 521.74H358.20M362.00 521.96V526.36M359.80 524.16H364.20M471.00 536.20V540.60M468.80 538.40H473.20M473.50 536.20V540.60M471.30 538.40H475.70M476.00 536.20V540.60M473.80 538.40H478.20M480.50 536.20V540.60M478.30 538.40H482.70" stroke="#34b24a" stroke-width="1.0" fill="none"/>
<text x="384.30" y="548.10" font-size="9.2" fill="#111" stroke="#111" stroke-width="0.12"><tspan font-style="italic">p</tspan></text>
<rect x="392.00" y="543.80" width="6.0" height="1.0" fill="#333"/>
<rect x="392.00" y="546.10" width="6.0" height="1.0" fill="#333"/>
<text x="400.20" y="548.10" font-size="9.2" fill="#111" stroke="#111" stroke-width="0.18" textLength="12.60" lengthAdjust="spacingAndGlyphs">NS</text>
<text x="307.30" y="623.40" font-size="7.4" fill="#111" stroke="#111" stroke-width="0.15" textLength="47.60" lengthAdjust="spacingAndGlyphs">Number at risk</text>
<text x="316.60" y="634.70" font-size="8.0" text-anchor="middle" fill="#111" stroke="#111" stroke-width="0.12">64</text>
<text x="363.00" y="634.70" font-size="8.0" text-anchor="middle" fill="#111" stroke="#111" stroke-width="0.12">43</text>
<text x="409.30" y="634.70" font-size="8.0" text-anchor="middle" fill="#111" stroke="#111" stroke-width="0.12">22</text>
<text x="455.40" y="634.70" font-size="8.0" text-anchor="middle" fill="#111" stroke="#111" stroke-width="0.12">1</text>
<text x="501.80" y="634.70" font-size="8.0" text-anchor="middle" fill="#111" stroke="#111" stroke-width="0.12">0</text>
<text x="316.60" y="645.80" font-size="8.0" text-anchor="middle" fill="#111" stroke="#111" stroke-width="0.12">59</text>
<text x="363.00" y="645.80" font-size="8.0" text-anchor="middle" fill="#111" stroke="#111" stroke-width="0.12">35</text>
<text x="409.30" y="645.80" font-size="8.0" text-anchor="middle" fill="#111" stroke="#111" stroke-width="0.12">17</text>
<text x="455.40" y="645.80" font-size="8.0" text-anchor="middle" fill="#111" stroke="#111" stroke-width="0.12">4</text>
<text x="501.80" y="645.80" font-size="8.0" text-anchor="middle" fill="#111" stroke="#111" stroke-width="0.12">0</text>
<text x="316.60" y="656.80" font-size="8.0" text-anchor="middle" fill="#111" stroke="#111" stroke-width="0.12">688</text>
<text x="363.00" y="656.80" font-size="8.0" text-anchor="middle" fill="#111" stroke="#111" stroke-width="0.12">439</text>
<text x="409.30" y="656.80" font-size="8.0" text-anchor="middle" fill="#111" stroke="#111" stroke-width="0.12">243</text>
<text x="455.40" y="656.80" font-size="8.0" text-anchor="middle" fill="#111" stroke="#111" stroke-width="0.12">41</text>
<text x="501.80" y="656.80" font-size="8.0" text-anchor="middle" fill="#111" stroke="#111" stroke-width="0.12">0</text>
<rect x="0" y="0" width="520" height="1.1" fill="#000"/>
<rect x="0" y="0" width="1.2" height="666" fill="#000"/>
<rect x="518.6" y="0" width="1.4" height="666" fill="#000"/>
<rect x="0" y="664.0" width="520" height="2" fill="#000"/>
</svg></body></html>
